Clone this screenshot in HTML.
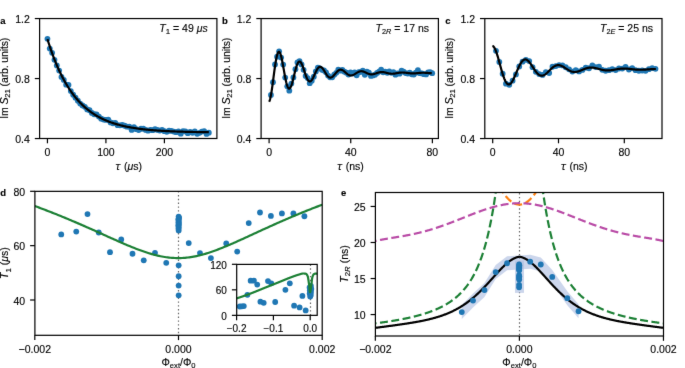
<!DOCTYPE html><html><head><meta charset="utf-8"><style>html,body{margin:0;padding:0;background:#fff;overflow:hidden}svg{display:block}text{font-family:"Liberation Sans",sans-serif;fill:#000;stroke:#000;stroke-width:0.13px}</style></head><body>
<svg style="will-change:transform" width="685" height="368" viewBox="0 0 685 368">
<defs><filter id="bl" x="0" y="0" width="685" height="368" filterUnits="userSpaceOnUse" color-interpolation-filters="sRGB"><feConvolveMatrix order="3" kernelMatrix="0.00524 0.06192 0.00524 0.06192 0.73137 0.06192 0.00524 0.06192 0.00524" divisor="1" edgeMode="duplicate"/></filter><clipPath id="ca"><rect x="39.6" y="18.55" width="177.3" height="119.95"/></clipPath><clipPath id="cb"><rect x="261" y="18.6" width="177.4" height="120"/></clipPath><clipPath id="cc"><rect x="484.8" y="18.6" width="177.6" height="120"/></clipPath><clipPath id="cd"><rect x="35" y="191.3" width="287.3" height="144"/></clipPath><clipPath id="ce"><rect x="375.4" y="192.5" width="288.1" height="143.5"/></clipPath><clipPath id="ci"><rect x="236.7" y="264.4" width="80.5" height="50.95"/></clipPath></defs>
<g filter="url(#bl)">
<rect width="685" height="368" fill="#fff"/>

<g fill="#1f77b4" clip-path="url(#ca)"><circle cx="47.44" cy="38.80" r="2.9"/><circle cx="49.78" cy="48.53" r="2.9"/><circle cx="52.12" cy="52.83" r="2.9"/><circle cx="54.46" cy="59.87" r="2.9"/><circle cx="56.80" cy="65.51" r="2.9"/><circle cx="59.14" cy="70.60" r="2.9"/><circle cx="61.48" cy="76.95" r="2.9"/><circle cx="63.81" cy="79.97" r="2.9"/><circle cx="66.15" cy="84.63" r="2.9"/><circle cx="68.49" cy="84.99" r="2.9"/><circle cx="70.83" cy="91.05" r="2.9"/><circle cx="73.17" cy="94.77" r="2.9"/><circle cx="75.51" cy="97.69" r="2.9"/><circle cx="77.85" cy="100.76" r="2.9"/><circle cx="80.19" cy="103.62" r="2.9"/><circle cx="82.53" cy="105.41" r="2.9"/><circle cx="84.87" cy="106.84" r="2.9"/><circle cx="87.21" cy="109.42" r="2.9"/><circle cx="89.55" cy="110.26" r="2.9"/><circle cx="91.88" cy="112.90" r="2.9"/><circle cx="94.22" cy="114.27" r="2.9"/><circle cx="96.56" cy="114.45" r="2.9"/><circle cx="98.90" cy="116.59" r="2.9"/><circle cx="101.24" cy="118.67" r="2.9"/><circle cx="103.58" cy="119.53" r="2.9"/><circle cx="105.92" cy="119.96" r="2.9"/><circle cx="108.26" cy="119.76" r="2.9"/><circle cx="110.60" cy="122.46" r="2.9"/><circle cx="112.94" cy="123.25" r="2.9"/><circle cx="115.28" cy="122.96" r="2.9"/><circle cx="117.62" cy="125.21" r="2.9"/><circle cx="119.96" cy="125.35" r="2.9"/><circle cx="122.29" cy="124.97" r="2.9"/><circle cx="124.63" cy="125.75" r="2.9"/><circle cx="126.97" cy="126.65" r="2.9"/><circle cx="129.31" cy="126.63" r="2.9"/><circle cx="131.65" cy="129.94" r="2.9"/><circle cx="133.99" cy="127.15" r="2.9"/><circle cx="136.33" cy="129.14" r="2.9"/><circle cx="138.67" cy="130.05" r="2.9"/><circle cx="141.01" cy="128.75" r="2.9"/><circle cx="143.35" cy="128.68" r="2.9"/><circle cx="145.69" cy="129.89" r="2.9"/><circle cx="148.03" cy="130.64" r="2.9"/><circle cx="150.36" cy="129.95" r="2.9"/><circle cx="152.70" cy="130.22" r="2.9"/><circle cx="155.04" cy="129.20" r="2.9"/><circle cx="157.38" cy="129.92" r="2.9"/><circle cx="159.72" cy="130.53" r="2.9"/><circle cx="162.06" cy="129.92" r="2.9"/><circle cx="164.40" cy="131.14" r="2.9"/><circle cx="166.74" cy="131.86" r="2.9"/><circle cx="169.08" cy="130.73" r="2.9"/><circle cx="171.42" cy="130.83" r="2.9"/><circle cx="173.76" cy="131.59" r="2.9"/><circle cx="176.10" cy="132.15" r="2.9"/><circle cx="178.44" cy="131.39" r="2.9"/><circle cx="180.77" cy="133.72" r="2.9"/><circle cx="183.11" cy="131.16" r="2.9"/><circle cx="185.45" cy="131.39" r="2.9"/><circle cx="187.79" cy="133.20" r="2.9"/><circle cx="190.13" cy="131.86" r="2.9"/><circle cx="192.47" cy="132.75" r="2.9"/><circle cx="194.81" cy="131.38" r="2.9"/><circle cx="197.15" cy="133.73" r="2.9"/><circle cx="199.49" cy="132.84" r="2.9"/><circle cx="201.83" cy="131.54" r="2.9"/><circle cx="204.17" cy="131.20" r="2.9"/><circle cx="206.51" cy="133.97" r="2.9"/><circle cx="208.84" cy="132.63" r="2.9"/></g>
<path d="M47.44,39.10 L48.25,41.71 L49.06,44.24 L49.87,46.71 L50.68,49.10 L51.50,51.43 L52.31,53.70 L53.12,55.90 L53.93,58.04 L54.74,60.12 L55.55,62.14 L56.36,64.10 L57.17,66.01 L57.98,67.87 L58.80,69.67 L59.61,71.43 L60.42,73.13 L61.23,74.79 L62.04,76.40 L62.85,77.97 L63.66,79.49 L64.47,80.98 L65.28,82.41 L66.09,83.81 L66.91,85.17 L67.72,86.50 L68.53,87.78 L69.34,89.03 L70.15,90.25 L70.96,91.43 L71.77,92.57 L72.58,93.69 L73.39,94.77 L74.21,95.83 L75.02,96.85 L75.83,97.85 L76.64,98.82 L77.45,99.76 L78.26,100.67 L79.07,101.56 L79.88,102.43 L80.69,103.27 L81.51,104.09 L82.32,104.88 L83.13,105.65 L83.94,106.40 L84.75,107.13 L85.56,107.84 L86.37,108.53 L87.18,109.20 L87.99,109.85 L88.81,110.49 L89.62,111.10 L90.43,111.70 L91.24,112.28 L92.05,112.85 L92.86,113.40 L93.67,113.93 L94.48,114.45 L95.29,114.96 L96.10,115.45 L96.92,115.93 L97.73,116.39 L98.54,116.84 L99.35,117.28 L100.16,117.71 L100.97,118.12 L101.78,118.52 L102.59,118.91 L103.40,119.29 L104.22,119.66 L105.03,120.02 L105.84,120.37 L106.65,120.71 L107.46,121.04 L108.27,121.37 L109.08,121.68 L109.89,121.98 L110.70,122.28 L111.52,122.56 L112.33,122.84 L113.14,123.11 L113.95,123.38 L114.76,123.63 L115.57,123.88 L116.38,124.12 L117.19,124.36 L118.00,124.59 L118.81,124.81 L119.63,125.02 L120.44,125.23 L121.25,125.44 L122.06,125.64 L122.87,125.83 L123.68,126.02 L124.49,126.20 L125.30,126.38 L126.11,126.55 L126.93,126.72 L127.74,126.88 L128.55,127.04 L129.36,127.19 L130.17,127.34 L130.98,127.49 L131.79,127.63 L132.60,127.77 L133.41,127.90 L134.23,128.03 L135.04,128.15 L135.85,128.28 L136.66,128.40 L137.47,128.51 L138.28,128.63 L139.09,128.73 L139.90,128.84 L140.71,128.94 L141.53,129.05 L142.34,129.14 L143.15,129.24 L143.96,129.33 L144.77,129.42 L145.58,129.51 L146.39,129.59 L147.20,129.68 L148.01,129.76 L148.82,129.83 L149.64,129.91 L150.45,129.98 L151.26,130.05 L152.07,130.12 L152.88,130.19 L153.69,130.26 L154.50,130.32 L155.31,130.38 L156.12,130.44 L156.94,130.50 L157.75,130.56 L158.56,130.62 L159.37,130.67 L160.18,130.72 L160.99,130.77 L161.80,130.82 L162.61,130.87 L163.42,130.92 L164.24,130.96 L165.05,131.01 L165.86,131.05 L166.67,131.09 L167.48,131.13 L168.29,131.17 L169.10,131.21 L169.91,131.25 L170.72,131.28 L171.54,131.32 L172.35,131.35 L173.16,131.39 L173.97,131.42 L174.78,131.45 L175.59,131.48 L176.40,131.51 L177.21,131.54 L178.02,131.57 L178.83,131.60 L179.65,131.62 L180.46,131.65 L181.27,131.67 L182.08,131.70 L182.89,131.72 L183.70,131.75 L184.51,131.77 L185.32,131.79 L186.13,131.81 L186.95,131.83 L187.76,131.85 L188.57,131.87 L189.38,131.89 L190.19,131.91 L191.00,131.93 L191.81,131.94 L192.62,131.96 L193.43,131.98 L194.25,131.99 L195.06,132.01 L195.87,132.02 L196.68,132.04 L197.49,132.05 L198.30,132.07 L199.11,132.08 L199.92,132.09 L200.73,132.11 L201.55,132.12 L202.36,132.13 L203.17,132.14 L203.98,132.15 L204.79,132.16 L205.60,132.18 L206.41,132.19 L207.22,132.20 L208.03,132.21 L208.84,132.22" fill="none" stroke="#000" stroke-width="2.2" stroke-linejoin="round" clip-path="url(#ca)"/>
<rect x="39.60" y="18.55" width="177.30" height="119.95" fill="none" stroke="#000" stroke-width="1.2"/>
<line x1="47.44" y1="138.50" x2="47.44" y2="143.30" stroke="#000" stroke-width="1.2"/>
<text x="47.44" y="155.80" text-anchor="middle" font-size="10.5">0</text>
<line x1="105.92" y1="138.50" x2="105.92" y2="143.30" stroke="#000" stroke-width="1.2"/>
<text x="105.92" y="155.80" text-anchor="middle" font-size="10.5">100</text>
<line x1="164.40" y1="138.50" x2="164.40" y2="143.30" stroke="#000" stroke-width="1.2"/>
<text x="164.40" y="155.80" text-anchor="middle" font-size="10.5">200</text>
<line x1="34.80" y1="138.55" x2="39.60" y2="138.55" stroke="#000" stroke-width="1.2"/>
<text x="29.80" y="143.05" text-anchor="end" font-size="10.5">0.4</text>
<line x1="34.80" y1="78.55" x2="39.60" y2="78.55" stroke="#000" stroke-width="1.2"/>
<text x="29.80" y="83.05" text-anchor="end" font-size="10.5">0.8</text>
<line x1="34.80" y1="18.55" x2="39.60" y2="18.55" stroke="#000" stroke-width="1.2"/>
<text x="29.80" y="23.05" text-anchor="end" font-size="10.5">1.2</text>
<g fill="#1f77b4" clip-path="url(#cb)"><circle cx="270.94" cy="94.89" r="2.9"/><circle cx="272.98" cy="82.24" r="2.9"/><circle cx="275.02" cy="64.39" r="2.9"/><circle cx="277.06" cy="56.66" r="2.9"/><circle cx="279.10" cy="51.37" r="2.9"/><circle cx="281.14" cy="57.58" r="2.9"/><circle cx="283.18" cy="64.61" r="2.9"/><circle cx="285.22" cy="77.55" r="2.9"/><circle cx="287.26" cy="86.30" r="2.9"/><circle cx="289.31" cy="90.71" r="2.9"/><circle cx="291.35" cy="83.53" r="2.9"/><circle cx="293.39" cy="77.43" r="2.9"/><circle cx="295.43" cy="69.15" r="2.9"/><circle cx="297.47" cy="62.42" r="2.9"/><circle cx="299.51" cy="61.12" r="2.9"/><circle cx="301.55" cy="64.42" r="2.9"/><circle cx="303.59" cy="69.82" r="2.9"/><circle cx="305.63" cy="75.93" r="2.9"/><circle cx="307.67" cy="78.03" r="2.9"/><circle cx="309.72" cy="83.22" r="2.9"/><circle cx="311.76" cy="80.76" r="2.9"/><circle cx="313.80" cy="76.66" r="2.9"/><circle cx="315.84" cy="71.52" r="2.9"/><circle cx="317.88" cy="67.56" r="2.9"/><circle cx="319.92" cy="68.33" r="2.9"/><circle cx="321.96" cy="69.86" r="2.9"/><circle cx="324.00" cy="70.50" r="2.9"/><circle cx="326.04" cy="72.35" r="2.9"/><circle cx="328.08" cy="75.54" r="2.9"/><circle cx="330.13" cy="77.32" r="2.9"/><circle cx="332.17" cy="77.33" r="2.9"/><circle cx="334.21" cy="74.64" r="2.9"/><circle cx="336.25" cy="72.85" r="2.9"/><circle cx="338.29" cy="69.59" r="2.9"/><circle cx="340.33" cy="70.65" r="2.9"/><circle cx="342.37" cy="69.94" r="2.9"/><circle cx="344.41" cy="71.64" r="2.9"/><circle cx="346.45" cy="72.65" r="2.9"/><circle cx="348.49" cy="74.51" r="2.9"/><circle cx="350.54" cy="72.41" r="2.9"/><circle cx="352.58" cy="73.41" r="2.9"/><circle cx="354.62" cy="72.40" r="2.9"/><circle cx="356.66" cy="75.33" r="2.9"/><circle cx="358.70" cy="72.18" r="2.9"/><circle cx="360.74" cy="71.97" r="2.9"/><circle cx="362.78" cy="70.76" r="2.9"/><circle cx="364.82" cy="74.86" r="2.9"/><circle cx="366.86" cy="71.68" r="2.9"/><circle cx="368.90" cy="72.64" r="2.9"/><circle cx="370.95" cy="75.90" r="2.9"/><circle cx="372.99" cy="75.41" r="2.9"/><circle cx="375.03" cy="74.68" r="2.9"/><circle cx="377.07" cy="72.96" r="2.9"/><circle cx="379.11" cy="71.62" r="2.9"/><circle cx="381.15" cy="69.61" r="2.9"/><circle cx="383.19" cy="72.37" r="2.9"/><circle cx="385.23" cy="71.58" r="2.9"/><circle cx="387.27" cy="72.83" r="2.9"/><circle cx="389.31" cy="71.37" r="2.9"/><circle cx="391.36" cy="72.83" r="2.9"/><circle cx="393.40" cy="72.05" r="2.9"/><circle cx="395.44" cy="74.72" r="2.9"/><circle cx="397.48" cy="73.28" r="2.9"/><circle cx="399.52" cy="73.68" r="2.9"/><circle cx="401.56" cy="70.71" r="2.9"/><circle cx="403.60" cy="71.74" r="2.9"/><circle cx="405.64" cy="73.09" r="2.9"/><circle cx="407.68" cy="73.54" r="2.9"/><circle cx="409.72" cy="72.67" r="2.9"/><circle cx="411.77" cy="74.24" r="2.9"/><circle cx="413.81" cy="74.51" r="2.9"/><circle cx="415.85" cy="72.68" r="2.9"/><circle cx="417.89" cy="70.10" r="2.9"/><circle cx="419.93" cy="73.16" r="2.9"/><circle cx="421.97" cy="73.42" r="2.9"/><circle cx="424.01" cy="74.16" r="2.9"/><circle cx="426.05" cy="74.45" r="2.9"/><circle cx="428.09" cy="72.37" r="2.9"/><circle cx="430.13" cy="72.12" r="2.9"/><circle cx="432.18" cy="73.21" r="2.9"/></g>
<path d="M269.10,101.66 L269.51,100.92 L269.92,99.77 L270.32,98.24 L270.73,96.35 L271.14,94.16 L271.55,91.68 L271.95,88.98 L272.36,86.10 L272.77,83.09 L273.18,79.99 L273.58,76.86 L273.99,73.75 L274.40,70.70 L274.81,67.76 L275.22,64.98 L275.62,62.38 L276.03,60.01 L276.44,57.90 L276.85,56.07 L277.25,54.55 L277.66,53.35 L278.07,52.48 L278.48,51.95 L278.88,51.76 L279.29,51.90 L279.70,52.36 L280.11,53.13 L280.52,54.19 L280.92,55.52 L281.33,57.08 L281.74,58.85 L282.15,60.79 L282.55,62.88 L282.96,65.08 L283.37,67.34 L283.78,69.64 L284.18,71.93 L284.59,74.19 L285.00,76.37 L285.41,78.45 L285.82,80.39 L286.22,82.18 L286.63,83.78 L287.04,85.18 L287.45,86.35 L287.85,87.29 L288.26,87.99 L288.67,88.44 L289.08,88.65 L289.48,88.60 L289.89,88.32 L290.30,87.81 L290.71,87.08 L291.12,86.16 L291.52,85.05 L291.93,83.78 L292.34,82.38 L292.75,80.87 L293.15,79.28 L293.56,77.62 L293.97,75.94 L294.38,74.25 L294.78,72.58 L295.19,70.96 L295.60,69.41 L296.01,67.96 L296.42,66.61 L296.82,65.40 L297.23,64.34 L297.64,63.43 L298.05,62.70 L298.45,62.14 L298.86,61.76 L299.27,61.57 L299.68,61.55 L300.08,61.72 L300.49,62.05 L300.90,62.55 L301.31,63.20 L301.72,63.98 L302.12,64.88 L302.53,65.89 L302.94,66.98 L303.35,68.14 L303.75,69.34 L304.16,70.58 L304.57,71.82 L304.98,73.05 L305.38,74.25 L305.79,75.41 L306.20,76.50 L306.61,77.50 L307.02,78.42 L307.42,79.23 L307.83,79.93 L308.24,80.50 L308.65,80.94 L309.05,81.25 L309.46,81.43 L309.87,81.47 L310.28,81.38 L310.68,81.17 L311.09,80.83 L311.50,80.38 L311.91,79.83 L312.31,79.19 L312.72,78.47 L313.13,77.68 L313.54,76.84 L313.95,75.96 L314.35,75.05 L314.76,74.14 L315.17,73.23 L315.58,72.34 L315.98,71.48 L316.39,70.67 L316.80,69.91 L317.21,69.22 L317.61,68.61 L318.02,68.07 L318.43,67.63 L318.84,67.28 L319.25,67.03 L319.65,66.88 L320.06,66.82 L320.47,66.86 L320.88,67.00 L321.28,67.22 L321.69,67.53 L322.10,67.92 L322.51,68.38 L322.91,68.89 L323.32,69.46 L323.73,70.07 L324.14,70.71 L324.55,71.37 L324.95,72.04 L325.36,72.71 L325.77,73.37 L326.18,74.01 L326.58,74.61 L326.99,75.18 L327.40,75.70 L327.81,76.17 L328.21,76.58 L328.62,76.92 L329.03,77.19 L329.44,77.40 L329.85,77.53 L330.25,77.59 L330.66,77.57 L331.07,77.49 L331.48,77.34 L331.88,77.13 L332.29,76.86 L332.70,76.53 L333.11,76.16 L333.51,75.75 L333.92,75.31 L334.33,74.85 L334.74,74.36 L335.15,73.87 L335.55,73.38 L335.96,72.89 L336.37,72.42 L336.78,71.97 L337.18,71.54 L337.59,71.15 L338.00,70.80 L338.41,70.49 L338.81,70.22 L339.22,70.01 L339.63,69.85 L340.04,69.74 L340.45,69.68 L340.85,69.68 L341.26,69.73 L341.67,69.83 L342.08,69.97 L342.48,70.16 L342.89,70.39 L343.30,70.65 L343.71,70.95 L344.11,71.26 L344.52,71.60 L344.93,71.96 L345.34,72.32 L345.75,72.68 L346.15,73.04 L346.56,73.39 L346.97,73.72 L347.38,74.04 L347.78,74.34 L348.19,74.60 L348.60,74.84 L349.01,75.04 L349.41,75.21 L349.82,75.34 L350.23,75.43 L350.64,75.48 L351.05,75.49 L351.45,75.46 L351.86,75.40 L352.27,75.30 L352.68,75.17 L353.08,75.01 L353.49,74.82 L353.90,74.61 L354.31,74.38 L354.71,74.14 L355.12,73.88 L355.53,73.62 L355.94,73.35 L356.35,73.08 L356.75,72.83 L357.16,72.57 L357.57,72.34 L357.98,72.12 L358.38,71.92 L358.79,71.74 L359.20,71.58 L359.61,71.45 L360.01,71.35 L360.42,71.28 L360.83,71.23 L361.24,71.22 L361.65,71.23 L362.05,71.27 L362.46,71.33 L362.87,71.42 L363.28,71.54 L363.68,71.67 L364.09,71.82 L364.50,71.99 L364.91,72.17 L365.31,72.35 L365.72,72.55 L366.13,72.74 L366.54,72.94 L366.95,73.13 L367.35,73.31 L367.76,73.49 L368.17,73.66 L368.58,73.81 L368.98,73.95 L369.39,74.06 L369.80,74.16 L370.21,74.24 L370.61,74.30 L371.02,74.34 L371.43,74.36 L371.84,74.35 L372.25,74.33 L372.65,74.29 L373.06,74.22 L373.47,74.14 L373.88,74.05 L374.28,73.94 L374.69,73.82 L375.10,73.69 L375.51,73.56 L375.91,73.42 L376.32,73.27 L376.73,73.13 L377.14,72.99 L377.55,72.85 L377.95,72.72 L378.36,72.59 L378.77,72.48 L379.18,72.38 L379.58,72.29 L379.99,72.21 L380.40,72.15 L380.81,72.10 L381.21,72.07 L381.62,72.05 L382.03,72.05 L382.44,72.06 L382.85,72.09 L383.25,72.14 L383.66,72.19 L384.07,72.26 L384.48,72.33 L384.88,72.42 L385.29,72.51 L385.70,72.61 L386.11,72.72 L386.51,72.82 L386.92,72.93 L387.33,73.03 L387.74,73.13 L388.15,73.23 L388.55,73.32 L388.96,73.41 L389.37,73.49 L389.78,73.56 L390.18,73.62 L390.59,73.66 L391.00,73.70 L391.41,73.73 L391.81,73.74 L392.22,73.75 L392.63,73.74 L393.04,73.72 L393.44,73.69 L393.85,73.65 L394.26,73.61 L394.67,73.55 L395.08,73.49 L395.48,73.42 L395.89,73.35 L396.30,73.28 L396.71,73.20 L397.11,73.12 L397.52,73.04 L397.93,72.97 L398.34,72.89 L398.74,72.83 L399.15,72.76 L399.56,72.70 L399.97,72.65 L400.38,72.60 L400.78,72.57 L401.19,72.54 L401.60,72.52 L402.01,72.50 L402.41,72.50 L402.82,72.50 L403.23,72.51 L403.64,72.53 L404.04,72.56 L404.45,72.59 L404.86,72.63 L405.27,72.68 L405.68,72.72 L406.08,72.78 L406.49,72.83 L406.90,72.89 L407.31,72.94 L407.71,73.00 L408.12,73.06 L408.53,73.11 L408.94,73.16 L409.34,73.21 L409.75,73.26 L410.16,73.30 L410.57,73.33 L410.98,73.36 L411.38,73.38 L411.79,73.40 L412.20,73.41 L412.61,73.42 L413.01,73.41 L413.42,73.41 L413.83,73.39 L414.24,73.38 L414.64,73.35 L415.05,73.33 L415.46,73.29 L415.87,73.26 L416.28,73.22 L416.68,73.18 L417.09,73.14 L417.50,73.10 L417.91,73.06 L418.31,73.02 L418.72,72.97 L419.13,72.94 L419.54,72.90 L419.94,72.87 L420.35,72.84 L420.76,72.81 L421.17,72.79 L421.58,72.77 L421.98,72.76 L422.39,72.75 L422.80,72.74 L423.21,72.74 L423.61,72.75 L424.02,72.75 L424.43,72.77 L424.84,72.78 L425.24,72.80 L425.65,72.83 L426.06,72.85 L426.47,72.88 L426.88,72.91 L427.28,72.94 L427.69,72.97 L428.10,73.00 L428.51,73.03 L428.91,73.06 L429.32,73.09 L429.73,73.11 L430.14,73.14 L430.54,73.16 L430.95,73.18 L431.36,73.20 L431.77,73.21" fill="none" stroke="#000" stroke-width="2.2" stroke-linejoin="round" clip-path="url(#cb)"/>
<rect x="261.10" y="18.55" width="177.30" height="119.95" fill="none" stroke="#000" stroke-width="1.2"/>
<line x1="269.10" y1="138.50" x2="269.10" y2="143.30" stroke="#000" stroke-width="1.2"/>
<text x="269.10" y="155.80" text-anchor="middle" font-size="10.5">0</text>
<line x1="350.74" y1="138.50" x2="350.74" y2="143.30" stroke="#000" stroke-width="1.2"/>
<text x="350.74" y="155.80" text-anchor="middle" font-size="10.5">40</text>
<line x1="432.38" y1="138.50" x2="432.38" y2="143.30" stroke="#000" stroke-width="1.2"/>
<text x="432.38" y="155.80" text-anchor="middle" font-size="10.5">80</text>
<line x1="256.30" y1="138.55" x2="261.10" y2="138.55" stroke="#000" stroke-width="1.2"/>
<text x="251.30" y="143.05" text-anchor="end" font-size="10.5">0.4</text>
<line x1="256.30" y1="78.55" x2="261.10" y2="78.55" stroke="#000" stroke-width="1.2"/>
<text x="251.30" y="83.05" text-anchor="end" font-size="10.5">0.8</text>
<line x1="256.30" y1="18.55" x2="261.10" y2="18.55" stroke="#000" stroke-width="1.2"/>
<text x="251.30" y="23.05" text-anchor="end" font-size="10.5">1.2</text>
<g fill="#1f77b4" clip-path="url(#cc)"><circle cx="495.99" cy="50.86" r="2.9"/><circle cx="499.31" cy="62.01" r="2.9"/><circle cx="502.64" cy="73.75" r="2.9"/><circle cx="505.96" cy="83.72" r="2.9"/><circle cx="509.28" cy="84.85" r="2.9"/><circle cx="512.60" cy="80.66" r="2.9"/><circle cx="515.93" cy="74.42" r="2.9"/><circle cx="519.25" cy="66.49" r="2.9"/><circle cx="522.57" cy="61.66" r="2.9"/><circle cx="525.90" cy="59.87" r="2.9"/><circle cx="529.22" cy="61.09" r="2.9"/><circle cx="532.54" cy="67.14" r="2.9"/><circle cx="535.86" cy="71.78" r="2.9"/><circle cx="539.19" cy="74.04" r="2.9"/><circle cx="542.51" cy="74.94" r="2.9"/><circle cx="545.83" cy="72.14" r="2.9"/><circle cx="549.16" cy="73.01" r="2.9"/><circle cx="552.48" cy="66.75" r="2.9"/><circle cx="555.80" cy="66.09" r="2.9"/><circle cx="559.13" cy="65.05" r="2.9"/><circle cx="562.45" cy="65.47" r="2.9"/><circle cx="565.77" cy="67.25" r="2.9"/><circle cx="569.09" cy="69.34" r="2.9"/><circle cx="572.42" cy="71.57" r="2.9"/><circle cx="575.74" cy="70.24" r="2.9"/><circle cx="579.06" cy="71.44" r="2.9"/><circle cx="582.39" cy="69.96" r="2.9"/><circle cx="585.71" cy="67.66" r="2.9"/><circle cx="589.03" cy="68.26" r="2.9"/><circle cx="592.35" cy="65.31" r="2.9"/><circle cx="595.68" cy="67.04" r="2.9"/><circle cx="599.00" cy="66.70" r="2.9"/><circle cx="602.32" cy="69.86" r="2.9"/><circle cx="605.65" cy="70.75" r="2.9"/><circle cx="608.97" cy="70.22" r="2.9"/><circle cx="612.29" cy="69.26" r="2.9"/><circle cx="615.61" cy="70.07" r="2.9"/><circle cx="618.94" cy="68.51" r="2.9"/><circle cx="622.26" cy="68.61" r="2.9"/><circle cx="625.58" cy="66.88" r="2.9"/><circle cx="628.91" cy="69.52" r="2.9"/><circle cx="632.23" cy="68.10" r="2.9"/><circle cx="635.55" cy="70.22" r="2.9"/><circle cx="638.87" cy="70.75" r="2.9"/><circle cx="642.20" cy="70.49" r="2.9"/><circle cx="645.52" cy="70.83" r="2.9"/><circle cx="648.84" cy="69.18" r="2.9"/><circle cx="652.17" cy="68.03" r="2.9"/><circle cx="655.49" cy="68.82" r="2.9"/></g>
<path d="M492.37,45.98 L492.78,46.07 L493.19,46.30 L493.60,46.67 L494.01,47.16 L494.42,47.79 L494.83,48.53 L495.24,49.38 L495.65,50.34 L496.06,51.40 L496.47,52.54 L496.88,53.76 L497.29,55.05 L497.70,56.40 L498.11,57.81 L498.52,59.25 L498.93,60.72 L499.34,62.22 L499.75,63.73 L500.16,65.23 L500.57,66.74 L500.98,68.22 L501.39,69.69 L501.80,71.11 L502.21,72.50 L502.62,73.84 L503.03,75.12 L503.44,76.33 L503.85,77.48 L504.26,78.56 L504.67,79.55 L505.08,80.46 L505.48,81.28 L505.89,82.01 L506.30,82.65 L506.71,83.19 L507.12,83.63 L507.53,83.98 L507.94,84.23 L508.35,84.38 L508.76,84.43 L509.17,84.39 L509.58,84.26 L509.99,84.04 L510.40,83.73 L510.81,83.34 L511.22,82.87 L511.63,82.33 L512.04,81.72 L512.45,81.05 L512.86,80.32 L513.27,79.53 L513.68,78.70 L514.09,77.83 L514.50,76.92 L514.91,75.99 L515.32,75.04 L515.73,74.07 L516.14,73.09 L516.55,72.11 L516.96,71.13 L517.37,70.16 L517.78,69.21 L518.19,68.27 L518.60,67.37 L519.01,66.49 L519.42,65.65 L519.83,64.85 L520.24,64.10 L520.65,63.39 L521.06,62.73 L521.47,62.13 L521.88,61.59 L522.29,61.10 L522.70,60.68 L523.11,60.31 L523.52,60.01 L523.93,59.78 L524.34,59.60 L524.75,59.49 L525.16,59.45 L525.57,59.46 L525.98,59.54 L526.38,59.67 L526.79,59.86 L527.20,60.10 L527.61,60.40 L528.02,60.74 L528.43,61.13 L528.84,61.56 L529.25,62.03 L529.66,62.53 L530.07,63.07 L530.48,63.63 L530.89,64.21 L531.30,64.82 L531.71,65.43 L532.12,66.06 L532.53,66.70 L532.94,67.34 L533.35,67.97 L533.76,68.60 L534.17,69.22 L534.58,69.83 L534.99,70.43 L535.40,71.00 L535.81,71.55 L536.22,72.07 L536.63,72.57 L537.04,73.04 L537.45,73.47 L537.86,73.87 L538.27,74.23 L538.68,74.55 L539.09,74.83 L539.50,75.08 L539.91,75.28 L540.32,75.44 L540.73,75.56 L541.14,75.64 L541.55,75.68 L541.96,75.68 L542.37,75.64 L542.78,75.56 L543.19,75.44 L543.60,75.29 L544.01,75.10 L544.42,74.89 L544.83,74.64 L545.24,74.36 L545.65,74.06 L546.06,73.74 L546.47,73.40 L546.88,73.04 L547.29,72.66 L547.69,72.27 L548.10,71.87 L548.51,71.46 L548.92,71.05 L549.33,70.63 L549.74,70.22 L550.15,69.81 L550.56,69.40 L550.97,69.01 L551.38,68.62 L551.79,68.24 L552.20,67.88 L552.61,67.54 L553.02,67.21 L553.43,66.91 L553.84,66.62 L554.25,66.36 L554.66,66.12 L555.07,65.90 L555.48,65.71 L555.89,65.55 L556.30,65.41 L556.71,65.30 L557.12,65.22 L557.53,65.16 L557.94,65.13 L558.35,65.13 L558.76,65.15 L559.17,65.20 L559.58,65.27 L559.99,65.37 L560.40,65.48 L560.81,65.62 L561.22,65.78 L561.63,65.95 L562.04,66.14 L562.45,66.35 L562.86,66.57 L563.27,66.81 L563.68,67.05 L564.09,67.30 L564.50,67.56 L564.91,67.82 L565.32,68.09 L565.73,68.36 L566.14,68.63 L566.55,68.90 L566.96,69.16 L567.37,69.42 L567.78,69.67 L568.19,69.92 L568.60,70.16 L569.00,70.38 L569.41,70.60 L569.82,70.80 L570.23,70.99 L570.64,71.16 L571.05,71.32 L571.46,71.46 L571.87,71.59 L572.28,71.70 L572.69,71.79 L573.10,71.86 L573.51,71.92 L573.92,71.96 L574.33,71.98 L574.74,71.99 L575.15,71.98 L575.56,71.95 L575.97,71.91 L576.38,71.85 L576.79,71.78 L577.20,71.69 L577.61,71.59 L578.02,71.48 L578.43,71.35 L578.84,71.22 L579.25,71.08 L579.66,70.93 L580.07,70.77 L580.48,70.61 L580.89,70.44 L581.30,70.27 L581.71,70.10 L582.12,69.92 L582.53,69.75 L582.94,69.57 L583.35,69.40 L583.76,69.23 L584.17,69.07 L584.58,68.91 L584.99,68.75 L585.40,68.60 L585.81,68.46 L586.22,68.33 L586.63,68.21 L587.04,68.09 L587.45,67.99 L587.86,67.89 L588.27,67.81 L588.68,67.73 L589.09,67.67 L589.50,67.62 L589.91,67.58 L590.31,67.55 L590.72,67.54 L591.13,67.53 L591.54,67.54 L591.95,67.55 L592.36,67.58 L592.77,67.61 L593.18,67.66 L593.59,67.71 L594.00,67.78 L594.41,67.85 L594.82,67.93 L595.23,68.01 L595.64,68.10 L596.05,68.20 L596.46,68.30 L596.87,68.41 L597.28,68.52 L597.69,68.63 L598.10,68.74 L598.51,68.85 L598.92,68.97 L599.33,69.08 L599.74,69.19 L600.15,69.30 L600.56,69.41 L600.97,69.52 L601.38,69.62 L601.79,69.71 L602.20,69.81 L602.61,69.89 L603.02,69.98 L603.43,70.05 L603.84,70.12 L604.25,70.18 L604.66,70.24 L605.07,70.29 L605.48,70.33 L605.89,70.36 L606.30,70.39 L606.71,70.41 L607.12,70.42 L607.53,70.43 L607.94,70.43 L608.35,70.42 L608.76,70.40 L609.17,70.38 L609.58,70.35 L609.99,70.32 L610.40,70.28 L610.81,70.23 L611.22,70.18 L611.62,70.13 L612.03,70.07 L612.44,70.00 L612.85,69.94 L613.26,69.87 L613.67,69.80 L614.08,69.73 L614.49,69.66 L614.90,69.58 L615.31,69.51 L615.72,69.44 L616.13,69.36 L616.54,69.29 L616.95,69.22 L617.36,69.15 L617.77,69.08 L618.18,69.02 L618.59,68.96 L619.00,68.90 L619.41,68.85 L619.82,68.80 L620.23,68.75 L620.64,68.71 L621.05,68.67 L621.46,68.64 L621.87,68.61 L622.28,68.59 L622.69,68.57 L623.10,68.56 L623.51,68.55 L623.92,68.55 L624.33,68.55 L624.74,68.55 L625.15,68.56 L625.56,68.57 L625.97,68.59 L626.38,68.61 L626.79,68.64 L627.20,68.67 L627.61,68.70 L628.02,68.74 L628.43,68.77 L628.84,68.81 L629.25,68.85 L629.66,68.90 L630.07,68.94 L630.48,68.99 L630.89,69.04 L631.30,69.09 L631.71,69.13 L632.12,69.18 L632.52,69.23 L632.93,69.28 L633.34,69.32 L633.75,69.37 L634.16,69.41 L634.57,69.45 L634.98,69.49 L635.39,69.53 L635.80,69.56 L636.21,69.60 L636.62,69.63 L637.03,69.66 L637.44,69.68 L637.85,69.70 L638.26,69.72 L638.67,69.74 L639.08,69.75 L639.49,69.76 L639.90,69.77 L640.31,69.77 L640.72,69.77 L641.13,69.77 L641.54,69.76 L641.95,69.75 L642.36,69.74 L642.77,69.73 L643.18,69.71 L643.59,69.69 L644.00,69.67 L644.41,69.65 L644.82,69.63 L645.23,69.60 L645.64,69.57 L646.05,69.54 L646.46,69.52 L646.87,69.49 L647.28,69.45 L647.69,69.42 L648.10,69.39 L648.51,69.36 L648.92,69.33 L649.33,69.30 L649.74,69.27 L650.15,69.24 L650.56,69.21 L650.97,69.18 L651.38,69.16 L651.79,69.13 L652.20,69.11 L652.61,69.09 L653.02,69.07 L653.43,69.05 L653.83,69.03 L654.24,69.02 L654.65,69.01 L655.06,69.00 L655.47,68.99 L655.88,68.98" fill="none" stroke="#000" stroke-width="2.2" stroke-linejoin="round" clip-path="url(#cc)"/>
<rect x="484.80" y="18.55" width="177.20" height="119.95" fill="none" stroke="#000" stroke-width="1.2"/>
<line x1="492.70" y1="138.50" x2="492.70" y2="143.30" stroke="#000" stroke-width="1.2"/>
<text x="492.70" y="155.80" text-anchor="middle" font-size="10.5">0</text>
<line x1="558.50" y1="138.50" x2="558.50" y2="143.30" stroke="#000" stroke-width="1.2"/>
<text x="558.50" y="155.80" text-anchor="middle" font-size="10.5">40</text>
<line x1="624.30" y1="138.50" x2="624.30" y2="143.30" stroke="#000" stroke-width="1.2"/>
<text x="624.30" y="155.80" text-anchor="middle" font-size="10.5">80</text>
<line x1="480.00" y1="138.55" x2="484.80" y2="138.55" stroke="#000" stroke-width="1.2"/>
<text x="475.00" y="143.05" text-anchor="end" font-size="10.5">0.4</text>
<line x1="480.00" y1="78.55" x2="484.80" y2="78.55" stroke="#000" stroke-width="1.2"/>
<text x="475.00" y="83.05" text-anchor="end" font-size="10.5">0.8</text>
<line x1="480.00" y1="18.55" x2="484.80" y2="18.55" stroke="#000" stroke-width="1.2"/>
<text x="475.00" y="23.05" text-anchor="end" font-size="10.5">1.2</text>
<line x1="178.5" y1="335.3" x2="178.5" y2="191.35" stroke="#666" stroke-width="1.2" stroke-dasharray="1.4 2.4" stroke-dashoffset="1.7"/>
<g fill="#1f77b4"><circle cx="61.25" cy="234.40" r="2.9"/><circle cx="76.25" cy="231.60" r="2.9"/><circle cx="87.50" cy="214.10" r="2.9"/><circle cx="98.75" cy="232.50" r="2.9"/><circle cx="110.00" cy="252.20" r="2.9"/><circle cx="121.25" cy="239.40" r="2.9"/><circle cx="132.50" cy="253.75" r="2.9"/><circle cx="143.75" cy="260.30" r="2.9"/><circle cx="155.00" cy="252.80" r="2.9"/><circle cx="166.25" cy="262.80" r="2.9"/><circle cx="188.75" cy="243.10" r="2.9"/><circle cx="200.00" cy="253.10" r="2.9"/><circle cx="210.90" cy="258.10" r="2.9"/><circle cx="226.25" cy="243.40" r="2.9"/><circle cx="237.20" cy="251.60" r="2.9"/><circle cx="248.75" cy="223.10" r="2.9"/><circle cx="260.00" cy="212.50" r="2.9"/><circle cx="270.90" cy="215.90" r="2.9"/><circle cx="281.90" cy="213.40" r="2.9"/><circle cx="293.40" cy="213.40" r="2.9"/><circle cx="304.40" cy="216.25" r="2.9"/></g>
<g fill="#1f77b4"><circle cx="178.65" cy="216.60" r="2.9"/><circle cx="179.10" cy="218.00" r="2.9"/><circle cx="178.30" cy="219.50" r="2.9"/><circle cx="178.90" cy="221.00" r="2.9"/><circle cx="178.40" cy="222.50" r="2.9"/><circle cx="179.00" cy="224.00" r="2.9"/><circle cx="178.30" cy="225.50" r="2.9"/><circle cx="178.80" cy="227.00" r="2.9"/><circle cx="178.50" cy="228.50" r="2.9"/><circle cx="178.65" cy="230.40" r="2.9"/><circle cx="178.65" cy="265.30" r="2.9"/><circle cx="178.65" cy="276.25" r="2.9"/><circle cx="178.65" cy="285.60" r="2.9"/><circle cx="178.65" cy="295.30" r="2.9"/></g>
<path d="M34.80,206.01 L36.24,206.54 L37.69,207.08 L39.13,207.62 L40.58,208.16 L42.02,208.71 L43.47,209.25 L44.91,209.81 L46.35,210.36 L47.80,210.92 L49.24,211.48 L50.69,212.05 L52.13,212.61 L53.57,213.19 L55.02,213.76 L56.46,214.34 L57.91,214.92 L59.35,215.50 L60.80,216.09 L62.24,216.68 L63.68,217.27 L65.13,217.87 L66.57,218.47 L68.02,219.07 L69.46,219.68 L70.91,220.28 L72.35,220.90 L73.79,221.51 L75.24,222.13 L76.68,222.75 L78.13,223.37 L79.57,223.99 L81.02,224.62 L82.46,225.25 L83.90,225.88 L85.35,226.52 L86.79,227.16 L88.24,227.79 L89.68,228.44 L91.12,229.08 L92.57,229.72 L94.01,230.37 L95.46,231.02 L96.90,231.66 L98.35,232.31 L99.79,232.97 L101.23,233.62 L102.68,234.27 L104.12,234.92 L105.57,235.57 L107.01,236.22 L108.46,236.88 L109.90,237.53 L111.34,238.17 L112.79,238.82 L114.23,239.47 L115.68,240.11 L117.12,240.75 L118.56,241.39 L120.01,242.03 L121.45,242.66 L122.90,243.29 L124.34,243.91 L125.79,244.53 L127.23,245.14 L128.67,245.74 L130.12,246.34 L131.56,246.93 L133.01,247.52 L134.45,248.09 L135.90,248.66 L137.34,249.21 L138.78,249.76 L140.23,250.30 L141.67,250.82 L143.12,251.33 L144.56,251.83 L146.01,252.31 L147.45,252.78 L148.89,253.23 L150.34,253.67 L151.78,254.09 L153.23,254.49 L154.67,254.88 L156.11,255.25 L157.56,255.59 L159.00,255.92 L160.45,256.23 L161.89,256.51 L163.34,256.77 L164.78,257.01 L166.22,257.23 L167.67,257.42 L169.11,257.59 L170.56,257.74 L172.00,257.86 L173.45,257.95 L174.89,258.02 L176.33,258.07 L177.78,258.08 L179.22,258.08 L180.67,258.05 L182.11,257.99 L183.55,257.90 L185.00,257.80 L186.44,257.66 L187.89,257.51 L189.33,257.32 L190.78,257.12 L192.22,256.89 L193.66,256.63 L195.11,256.36 L196.55,256.06 L198.00,255.74 L199.44,255.40 L200.89,255.04 L202.33,254.66 L203.77,254.26 L205.22,253.85 L206.66,253.41 L208.11,252.96 L209.55,252.50 L210.99,252.01 L212.44,251.52 L213.88,251.01 L215.33,250.48 L216.77,249.95 L218.22,249.40 L219.66,248.84 L221.10,248.27 L222.55,247.69 L223.99,247.10 L225.44,246.51 L226.88,245.90 L228.33,245.29 L229.77,244.67 L231.21,244.05 L232.66,243.42 L234.10,242.78 L235.55,242.14 L236.99,241.49 L238.44,240.85 L239.88,240.19 L241.32,239.54 L242.77,238.88 L244.21,238.22 L245.66,237.56 L247.10,236.90 L248.54,236.24 L249.99,235.57 L251.43,234.91 L252.88,234.24 L254.32,233.58 L255.77,232.91 L257.21,232.25 L258.65,231.58 L260.10,230.92 L261.54,230.26 L262.99,229.60 L264.43,228.94 L265.88,228.28 L267.32,227.63 L268.76,226.97 L270.21,226.32 L271.65,225.67 L273.10,225.02 L274.54,224.38 L275.98,223.73 L277.43,223.09 L278.87,222.45 L280.32,221.82 L281.76,221.19 L283.21,220.56 L284.65,219.93 L286.09,219.30 L287.54,218.68 L288.98,218.06 L290.43,217.45 L291.87,216.84 L293.32,216.23 L294.76,215.62 L296.20,215.02 L297.65,214.42 L299.09,213.82 L300.54,213.23 L301.98,212.64 L303.43,212.05 L304.87,211.46 L306.31,210.88 L307.76,210.30 L309.20,209.73 L310.65,209.16 L312.09,208.59 L313.53,208.02 L314.98,207.46 L316.42,206.90 L317.87,206.35 L319.31,205.80 L320.76,205.25 L322.20,204.70" fill="none" stroke="#1c8035" stroke-width="2.2" stroke-linejoin="round" clip-path="url(#cd)"/>
<rect x="34.90" y="191.35" width="287.30" height="143.95" fill="none" stroke="#000" stroke-width="1.2"/>
<line x1="34.80" y1="335.30" x2="34.80" y2="340.10" stroke="#000" stroke-width="1.2"/>
<text x="34.80" y="352.60" text-anchor="middle" font-size="10.5">−0.002</text>
<line x1="178.50" y1="335.30" x2="178.50" y2="340.10" stroke="#000" stroke-width="1.2"/>
<text x="178.50" y="352.60" text-anchor="middle" font-size="10.5">0.000</text>
<line x1="322.20" y1="335.30" x2="322.20" y2="340.10" stroke="#000" stroke-width="1.2"/>
<text x="322.20" y="352.60" text-anchor="middle" font-size="10.5">0.002</text>
<line x1="30.10" y1="300.00" x2="34.90" y2="300.00" stroke="#000" stroke-width="1.2"/>
<text x="25.10" y="304.50" text-anchor="end" font-size="10.5">40</text>
<line x1="30.10" y1="245.65" x2="34.90" y2="245.65" stroke="#000" stroke-width="1.2"/>
<text x="25.10" y="250.15" text-anchor="end" font-size="10.5">60</text>
<line x1="30.10" y1="191.30" x2="34.90" y2="191.30" stroke="#000" stroke-width="1.2"/>
<text x="25.10" y="195.80" text-anchor="end" font-size="10.5">80</text>
<rect x="236.7" y="264.4" width="80.5" height="50.950000000000045" fill="#fff"/>
<line x1="310.5" y1="315.35" x2="310.5" y2="264.4" stroke="#666" stroke-width="1.2" stroke-dasharray="1.4 2.4"/>
<g fill="#1f77b4" clip-path="url(#ci)"><circle cx="239.80" cy="306.50" r="2.9"/><circle cx="241.80" cy="306.30" r="2.9"/><circle cx="243.80" cy="306.10" r="2.9"/><circle cx="247.40" cy="294.80" r="2.9"/><circle cx="250.65" cy="280.65" r="2.9"/><circle cx="253.90" cy="280.65" r="2.9"/><circle cx="257.20" cy="284.60" r="2.9"/><circle cx="260.40" cy="301.70" r="2.9"/><circle cx="263.70" cy="302.80" r="2.9"/><circle cx="268.00" cy="281.10" r="2.9"/><circle cx="271.30" cy="283.30" r="2.9"/><circle cx="275.20" cy="302.00" r="2.9"/><circle cx="285.40" cy="289.80" r="2.9"/><circle cx="289.80" cy="283.30" r="2.9"/><circle cx="294.10" cy="305.65" r="2.9"/><circle cx="299.60" cy="307.40" r="2.9"/><circle cx="302.40" cy="295.90" r="2.9"/><circle cx="305.65" cy="310.40" r="2.9"/></g>
<g fill="#1f77b4" clip-path="url(#ci)"><circle cx="310.90" cy="286.00" r="2.9"/><circle cx="309.60" cy="287.50" r="2.9"/><circle cx="311.30" cy="289.00" r="2.9"/><circle cx="309.80" cy="290.50" r="2.9"/><circle cx="311.00" cy="292.00" r="2.9"/><circle cx="309.70" cy="293.50" r="2.9"/><circle cx="310.80" cy="295.00" r="2.9"/><circle cx="310.20" cy="296.50" r="2.9"/></g>
<path d="M236.01,298.59 L236.10,298.56 L236.19,298.53 L236.28,298.50 L236.38,298.47 L236.47,298.44 L236.56,298.41 L236.65,298.38 L236.74,298.35 L236.83,298.33 L236.92,298.30 L237.01,298.27 L237.11,298.24 L237.20,298.21 L237.29,298.18 L237.38,298.15 L237.47,298.12 L237.56,298.09 L237.65,298.06 L237.74,298.03 L237.84,298.00 L237.93,297.97 L238.02,297.94 L238.11,297.91 L238.20,297.88 L238.29,297.85 L238.38,297.82 L238.47,297.79 L238.56,297.76 L238.66,297.73 L238.75,297.70 L238.84,297.67 L238.93,297.64 L239.02,297.61 L239.11,297.58 L239.20,297.55 L239.29,297.52 L239.39,297.49 L239.48,297.46 L239.57,297.43 L239.66,297.39 L239.75,297.36 L239.84,297.33 L239.93,297.30 L240.02,297.27 L240.12,297.24 L240.21,297.21 L240.30,297.18 L240.39,297.15 L240.48,297.12 L240.57,297.09 L240.66,297.06 L240.75,297.03 L240.84,297.00 L240.94,296.96 L241.03,296.93 L241.12,296.90 L241.21,296.87 L241.30,296.84 L241.39,296.81 L241.48,296.78 L241.57,296.75 L241.67,296.72 L241.76,296.68 L241.85,296.65 L241.94,296.62 L242.03,296.59 L242.12,296.56 L242.21,296.53 L242.30,296.50 L242.40,296.46 L242.49,296.43 L242.58,296.40 L242.67,296.37 L242.76,296.34 L242.85,296.31 L242.94,296.28 L243.03,296.24 L243.12,296.21 L243.22,296.18 L243.31,296.15 L243.40,296.12 L243.49,296.08 L243.58,296.05 L243.67,296.02 L243.76,295.99 L243.85,295.96 L243.95,295.93 L244.04,295.89 L244.13,295.86 L244.22,295.83 L244.31,295.80 L244.40,295.76 L244.49,295.73 L244.58,295.70 L244.68,295.67 L244.77,295.64 L244.86,295.60 L244.95,295.57 L245.04,295.54 L245.13,295.51 L245.22,295.47 L245.31,295.44 L245.40,295.41 L245.50,295.38 L245.59,295.34 L245.68,295.31 L245.77,295.28 L245.86,295.25 L245.95,295.21 L246.04,295.18 L246.13,295.15 L246.23,295.12 L246.32,295.08 L246.41,295.05 L246.50,295.02 L246.59,294.98 L246.68,294.95 L246.77,294.92 L246.86,294.89 L246.96,294.85 L247.05,294.82 L247.14,294.79 L247.23,294.75 L247.32,294.72 L247.41,294.69 L247.50,294.65 L247.59,294.62 L247.69,294.59 L247.78,294.56 L247.87,294.52 L247.96,294.49 L248.05,294.46 L248.14,294.42 L248.23,294.39 L248.32,294.36 L248.41,294.32 L248.51,294.29 L248.60,294.25 L248.69,294.22 L248.78,294.19 L248.87,294.15 L248.96,294.12 L249.05,294.09 L249.14,294.05 L249.24,294.02 L249.33,293.99 L249.42,293.95 L249.51,293.92 L249.60,293.88 L249.69,293.85 L249.78,293.82 L249.87,293.78 L249.97,293.75 L250.06,293.72 L250.15,293.68 L250.24,293.65 L250.33,293.61 L250.42,293.58 L250.51,293.55 L250.60,293.51 L250.69,293.48 L250.79,293.44 L250.88,293.41 L250.97,293.37 L251.06,293.34 L251.15,293.30 L251.24,293.27 L251.33,293.23 L251.42,293.20 L251.52,293.16 L251.61,293.13 L251.70,293.09 L251.79,293.06 L251.88,293.02 L251.97,292.99 L252.06,292.95 L252.15,292.92 L252.25,292.88 L252.34,292.85 L252.43,292.81 L252.52,292.78 L252.61,292.74 L252.70,292.71 L252.79,292.67 L252.88,292.63 L252.97,292.60 L253.07,292.56 L253.16,292.53 L253.25,292.49 L253.34,292.45 L253.43,292.42 L253.52,292.38 L253.61,292.35 L253.70,292.31 L253.80,292.27 L253.89,292.24 L253.98,292.20 L254.07,292.17 L254.16,292.13 L254.25,292.09 L254.34,292.06 L254.43,292.02 L254.53,291.98 L254.62,291.95 L254.71,291.91 L254.80,291.87 L254.89,291.84 L254.98,291.80 L255.07,291.76 L255.16,291.73 L255.25,291.69 L255.35,291.65 L255.44,291.62 L255.53,291.58 L255.62,291.54 L255.71,291.51 L255.80,291.47 L255.89,291.43 L255.98,291.39 L256.08,291.36 L256.17,291.32 L256.26,291.28 L256.35,291.25 L256.44,291.21 L256.53,291.17 L256.62,291.13 L256.71,291.10 L256.81,291.06 L256.90,291.02 L256.99,290.99 L257.08,290.95 L257.17,290.91 L257.26,290.87 L257.35,290.84 L257.44,290.80 L257.53,290.76 L257.63,290.72 L257.72,290.69 L257.81,290.65 L257.90,290.61 L257.99,290.58 L258.08,290.54 L258.17,290.50 L258.26,290.46 L258.36,290.43 L258.45,290.39 L258.54,290.35 L258.63,290.31 L258.72,290.28 L258.81,290.24 L258.90,290.20 L258.99,290.16 L259.09,290.13 L259.18,290.09 L259.27,290.05 L259.36,290.01 L259.45,289.98 L259.54,289.94 L259.63,289.90 L259.72,289.86 L259.81,289.83 L259.91,289.79 L260.00,289.75 L260.09,289.71 L260.18,289.68 L260.27,289.64 L260.36,289.60 L260.45,289.56 L260.54,289.53 L260.64,289.49 L260.73,289.45 L260.82,289.41 L260.91,289.38 L261.00,289.34 L261.09,289.30 L261.18,289.26 L261.27,289.23 L261.37,289.19 L261.46,289.15 L261.55,289.12 L261.64,289.08 L261.73,289.04 L261.82,289.00 L261.91,288.97 L262.00,288.93 L262.09,288.89 L262.19,288.85 L262.28,288.82 L262.37,288.78 L262.46,288.74 L262.55,288.71 L262.64,288.67 L262.73,288.63 L262.82,288.60 L262.92,288.56 L263.01,288.52 L263.10,288.48 L263.19,288.45 L263.28,288.41 L263.37,288.37 L263.46,288.34 L263.55,288.30 L263.65,288.26 L263.74,288.23 L263.83,288.19 L263.92,288.15 L264.01,288.12 L264.10,288.08 L264.19,288.04 L264.28,288.01 L264.37,287.97 L264.47,287.93 L264.56,287.90 L264.65,287.86 L264.74,287.83 L264.83,287.79 L264.92,287.75 L265.01,287.72 L265.10,287.68 L265.20,287.64 L265.29,287.61 L265.38,287.57 L265.47,287.53 L265.56,287.50 L265.65,287.46 L265.74,287.42 L265.83,287.39 L265.93,287.35 L266.02,287.32 L266.11,287.28 L266.20,287.24 L266.29,287.21 L266.38,287.17 L266.47,287.13 L266.56,287.10 L266.65,287.06 L266.75,287.02 L266.84,286.99 L266.93,286.95 L267.02,286.92 L267.11,286.88 L267.20,286.84 L267.29,286.81 L267.38,286.77 L267.48,286.73 L267.57,286.70 L267.66,286.66 L267.75,286.62 L267.84,286.59 L267.93,286.55 L268.02,286.52 L268.11,286.48 L268.21,286.44 L268.30,286.41 L268.39,286.37 L268.48,286.33 L268.57,286.30 L268.66,286.26 L268.75,286.23 L268.84,286.19 L268.94,286.15 L269.03,286.12 L269.12,286.08 L269.21,286.04 L269.30,286.01 L269.39,285.97 L269.48,285.94 L269.57,285.90 L269.66,285.86 L269.76,285.83 L269.85,285.79 L269.94,285.75 L270.03,285.72 L270.12,285.68 L270.21,285.64 L270.30,285.61 L270.39,285.57 L270.49,285.54 L270.58,285.50 L270.67,285.46 L270.76,285.43 L270.85,285.39 L270.94,285.35 L271.03,285.32 L271.12,285.28 L271.22,285.25 L271.31,285.21 L271.40,285.17 L271.49,285.14 L271.58,285.10 L271.67,285.06 L271.76,285.03 L271.85,284.99 L271.94,284.96 L272.04,284.92 L272.13,284.88 L272.22,284.85 L272.31,284.81 L272.40,284.77 L272.49,284.74 L272.58,284.70 L272.67,284.67 L272.77,284.63 L272.86,284.59 L272.95,284.56 L273.04,284.52 L273.13,284.48 L273.22,284.45 L273.31,284.41 L273.40,284.38 L273.50,284.34 L273.59,284.30 L273.68,284.27 L273.77,284.23 L273.86,284.19 L273.95,284.16 L274.04,284.12 L274.13,284.08 L274.22,284.05 L274.32,284.01 L274.41,283.98 L274.50,283.94 L274.59,283.90 L274.68,283.87 L274.77,283.83 L274.86,283.79 L274.95,283.76 L275.05,283.72 L275.14,283.69 L275.23,283.65 L275.32,283.61 L275.41,283.58 L275.50,283.54 L275.59,283.50 L275.68,283.47 L275.78,283.43 L275.87,283.39 L275.96,283.36 L276.05,283.32 L276.14,283.29 L276.23,283.25 L276.32,283.21 L276.41,283.18 L276.50,283.14 L276.60,283.10 L276.69,283.07 L276.78,283.03 L276.87,282.99 L276.96,282.96 L277.05,282.92 L277.14,282.89 L277.23,282.85 L277.33,282.81 L277.42,282.78 L277.51,282.74 L277.60,282.70 L277.69,282.67 L277.78,282.63 L277.87,282.59 L277.96,282.56 L278.06,282.52 L278.15,282.48 L278.24,282.45 L278.33,282.41 L278.42,282.38 L278.51,282.34 L278.60,282.30 L278.69,282.27 L278.78,282.23 L278.88,282.19 L278.97,282.16 L279.06,282.12 L279.15,282.08 L279.24,282.05 L279.33,282.01 L279.42,281.97 L279.51,281.93 L279.61,281.90 L279.70,281.86 L279.79,281.82 L279.88,281.79 L279.97,281.75 L280.06,281.71 L280.15,281.67 L280.24,281.64 L280.34,281.60 L280.43,281.56 L280.52,281.52 L280.61,281.49 L280.70,281.45 L280.79,281.41 L280.88,281.37 L280.97,281.34 L281.06,281.30 L281.16,281.26 L281.25,281.22 L281.34,281.19 L281.43,281.15 L281.52,281.11 L281.61,281.07 L281.70,281.04 L281.79,281.00 L281.89,280.96 L281.98,280.92 L282.07,280.89 L282.16,280.85 L282.25,280.81 L282.34,280.77 L282.43,280.73 L282.52,280.70 L282.62,280.66 L282.71,280.62 L282.80,280.58 L282.89,280.54 L282.98,280.51 L283.07,280.47 L283.16,280.43 L283.25,280.39 L283.34,280.36 L283.44,280.32 L283.53,280.28 L283.62,280.24 L283.71,280.20 L283.80,280.17 L283.89,280.13 L283.98,280.09 L284.07,280.05 L284.17,280.01 L284.26,279.98 L284.35,279.94 L284.44,279.90 L284.53,279.86 L284.62,279.83 L284.71,279.79 L284.80,279.75 L284.90,279.71 L284.99,279.67 L285.08,279.64 L285.17,279.60 L285.26,279.56 L285.35,279.52 L285.44,279.49 L285.53,279.45 L285.62,279.41 L285.72,279.37 L285.81,279.34 L285.90,279.30 L285.99,279.26 L286.08,279.22 L286.17,279.19 L286.26,279.15 L286.35,279.11 L286.45,279.07 L286.54,279.04 L286.63,279.00 L286.72,278.96 L286.81,278.93 L286.90,278.89 L286.99,278.85 L287.08,278.81 L287.18,278.78 L287.27,278.74 L287.36,278.70 L287.45,278.67 L287.54,278.63 L287.63,278.59 L287.72,278.56 L287.81,278.52 L287.91,278.48 L288.00,278.45 L288.09,278.41 L288.18,278.37 L288.27,278.34 L288.36,278.30 L288.45,278.26 L288.54,278.23 L288.63,278.19 L288.73,278.16 L288.82,278.12 L288.91,278.08 L289.00,278.05 L289.09,278.01 L289.18,277.98 L289.27,277.94 L289.36,277.90 L289.46,277.87 L289.55,277.83 L289.64,277.80 L289.73,277.76 L289.82,277.73 L289.91,277.69 L290.00,277.66 L290.09,277.62 L290.19,277.58 L290.28,277.55 L290.37,277.51 L290.46,277.48 L290.55,277.45 L290.64,277.41 L290.73,277.38 L290.82,277.34 L290.91,277.31 L291.01,277.27 L291.10,277.24 L291.19,277.20 L291.28,277.17 L291.37,277.14 L291.46,277.10 L291.55,277.07 L291.64,277.03 L291.74,277.00 L291.83,276.97 L291.92,276.93 L292.01,276.90 L292.10,276.87 L292.19,276.83 L292.28,276.80 L292.37,276.77 L292.47,276.73 L292.56,276.70 L292.65,276.67 L292.74,276.63 L292.83,276.60 L292.92,276.57 L293.01,276.54 L293.10,276.50 L293.19,276.47 L293.29,276.44 L293.38,276.41 L293.47,276.37 L293.56,276.34 L293.65,276.31 L293.74,276.27 L293.83,276.24 L293.92,276.21 L294.02,276.18 L294.11,276.14 L294.20,276.11 L294.29,276.08 L294.38,276.05 L294.47,276.02 L294.56,275.98 L294.65,275.95 L294.75,275.92 L294.84,275.89 L294.93,275.85 L295.02,275.82 L295.11,275.79 L295.20,275.76 L295.29,275.73 L295.38,275.70 L295.47,275.66 L295.57,275.63 L295.66,275.60 L295.75,275.57 L295.84,275.54 L295.93,275.51 L296.02,275.48 L296.11,275.45 L296.20,275.41 L296.30,275.38 L296.39,275.35 L296.48,275.32 L296.57,275.29 L296.66,275.26 L296.75,275.23 L296.84,275.20 L296.93,275.17 L297.03,275.14 L297.12,275.11 L297.21,275.08 L297.30,275.05 L297.39,275.02 L297.48,275.00 L297.57,274.97 L297.66,274.94 L297.75,274.91 L297.85,274.88 L297.94,274.85 L298.03,274.82 L298.12,274.80 L298.21,274.77 L298.30,274.74 L298.39,274.71 L298.48,274.68 L298.58,274.66 L298.67,274.63 L298.76,274.60 L298.85,274.58 L298.94,274.55 L299.03,274.52 L299.12,274.50 L299.21,274.47 L299.31,274.45 L299.40,274.42 L299.49,274.40 L299.58,274.37 L299.67,274.34 L299.76,274.32 L299.85,274.29 L299.94,274.26 L300.03,274.23 L300.13,274.21 L300.22,274.18 L300.31,274.15 L300.40,274.12 L300.49,274.09 L300.58,274.06 L300.67,274.03 L300.76,274.00 L300.86,273.97 L300.95,273.94 L301.04,273.91 L301.13,273.88 L301.22,273.85 L301.31,273.83 L301.40,273.80 L301.49,273.77 L301.59,273.75 L301.68,273.72 L301.77,273.70 L301.86,273.68 L301.95,273.65 L302.04,273.63 L302.13,273.61 L302.22,273.59 L302.31,273.58 L302.41,273.56 L302.50,273.55 L302.59,273.53 L302.68,273.52 L302.77,273.51 L302.86,273.50 L302.95,273.50 L303.04,273.49 L303.14,273.49 L303.23,273.49 L303.32,273.49 L303.41,273.49 L303.50,273.49 L303.59,273.50 L303.68,273.50 L303.77,273.50 L303.87,273.51 L303.96,273.51 L304.05,273.52 L304.14,273.53 L304.23,273.53 L304.32,273.54 L304.41,273.55 L304.50,273.56 L304.59,273.57 L304.69,273.58 L304.78,273.59 L304.87,273.60 L304.96,273.61 L305.05,273.62 L305.14,273.64 L305.23,273.65 L305.32,273.66 L305.42,273.68 L305.51,273.70 L305.60,273.71 L305.69,273.73 L305.78,273.75 L305.87,273.77 L305.96,273.80 L306.05,273.84 L306.15,273.90 L306.24,273.96 L306.33,274.04 L306.42,274.12 L306.51,274.21 L306.60,274.31 L306.69,274.42 L306.78,274.54 L306.87,274.67 L306.97,274.81 L307.06,274.95 L307.15,275.10 L307.24,275.26 L307.33,275.42 L307.42,275.60 L307.51,275.77 L307.60,275.96 L307.70,276.17 L307.79,276.45 L307.88,276.80 L307.97,277.21 L308.06,277.66 L308.15,278.17 L308.24,278.71 L308.33,279.29 L308.43,279.90 L308.52,280.54 L308.61,281.19 L308.70,281.85 L308.79,282.52 L308.88,283.19 L308.97,283.85 L309.06,284.50 L309.16,285.17 L309.25,285.99 L309.34,286.92 L309.43,287.91 L309.52,288.90 L309.61,289.85 L309.70,290.71 L309.79,291.43 L309.88,291.95 L309.98,292.22 L310.07,292.23 L310.16,292.08 L310.25,291.82 L310.34,291.45 L310.43,290.99 L310.52,290.46 L310.61,289.88 L310.71,289.26 L310.80,288.61 L310.89,287.97 L310.98,287.34 L311.07,286.73 L311.16,286.16 L311.25,285.53 L311.34,284.84 L311.44,284.10 L311.53,283.33 L311.62,282.54 L311.71,281.75 L311.80,280.96 L311.89,280.20 L311.98,279.48 L312.07,278.81 L312.16,278.21 L312.26,277.70 L312.35,277.28 L312.44,276.97 L312.53,276.69 L312.62,276.43 L312.71,276.17 L312.80,275.93 L312.89,275.70 L312.99,275.49 L313.08,275.29 L313.17,275.10 L313.26,274.93 L313.35,274.77 L313.44,274.62 L313.53,274.50 L313.62,274.39 L313.72,274.29 L313.81,274.22 L313.90,274.16 L313.99,274.11 L314.08,274.06 L314.17,274.01 L314.26,273.97 L314.35,273.93 L314.44,273.89 L314.54,273.85 L314.63,273.81 L314.72,273.78 L314.81,273.75 L314.90,273.72 L314.99,273.69 L315.08,273.67 L315.17,273.65 L315.27,273.63 L315.36,273.61 L315.45,273.60 L315.54,273.59 L315.63,273.58 L315.72,273.58 L315.81,273.57 L315.90,273.57 L316.00,273.57 L316.09,273.56 L316.18,273.56 L316.27,273.56 L316.36,273.56 L316.45,273.55 L316.54,273.55 L316.63,273.55 L316.72,273.55 L316.82,273.54 L316.91,273.54 L317.00,273.54 L317.09,273.54 L317.18,273.54 L317.27,273.54 L317.36,273.54 L317.45,273.54 L317.55,273.53 L317.64,273.53 L317.73,273.53 L317.82,273.53 L317.91,273.53 L318.00,273.53" fill="none" stroke="#1c8035" stroke-width="2.2" stroke-linejoin="round" clip-path="url(#ci)"/>
<rect x="236.70" y="264.40" width="80.50" height="50.95" fill="none" stroke="#000" stroke-width="1.2"/>
<line x1="236.60" y1="315.35" x2="236.60" y2="320.15" stroke="#000" stroke-width="1.2"/>
<text x="236.60" y="331.75" text-anchor="middle" font-size="10">−0.2</text>
<line x1="273.40" y1="315.35" x2="273.40" y2="320.15" stroke="#000" stroke-width="1.2"/>
<text x="273.40" y="331.75" text-anchor="middle" font-size="10">−0.1</text>
<line x1="310.20" y1="315.35" x2="310.20" y2="320.15" stroke="#000" stroke-width="1.2"/>
<text x="310.20" y="331.75" text-anchor="middle" font-size="10">0.0</text>
<line x1="231.90" y1="315.35" x2="236.70" y2="315.35" stroke="#000" stroke-width="1.2"/>
<text x="226.90" y="319.85" text-anchor="end" font-size="10">0</text>
<line x1="231.90" y1="289.83" x2="236.70" y2="289.83" stroke="#000" stroke-width="1.2"/>
<text x="226.90" y="294.33" text-anchor="end" font-size="10">60</text>
<line x1="231.90" y1="264.30" x2="236.70" y2="264.30" stroke="#000" stroke-width="1.2"/>
<text x="226.90" y="268.80" text-anchor="end" font-size="10">120</text>
<line x1="519.5" y1="336.0" x2="519.5" y2="192.5" stroke="#666" stroke-width="1.2" stroke-dasharray="1.4 2.4" stroke-dashoffset="2.9"/>
<polygon points="461.78,305.04 473.01,293.58 484.47,283.06 495.70,265.04 507.08,256.25 530.20,254.67 540.79,257.48 552.25,269.94 567.30,291.13 578.54,304.25 578.54,318.25 567.30,305.13 552.25,283.94 540.79,271.48 530.20,268.67 507.08,270.25 495.70,279.04 484.47,297.06 473.01,307.58 461.78,319.04" fill="#aabbdf" fill-opacity="0.6"/>
<rect x="515" y="260.5" width="9" height="32.4" fill="#aabbdf" fill-opacity="0.6"/>
<path d="M375.34,323.34 L375.65,323.30 L375.95,323.27 L376.26,323.23 L376.57,323.19 L376.87,323.15 L377.18,323.11 L377.49,323.07 L377.80,323.03 L378.10,322.99 L378.41,322.95 L378.72,322.91 L379.02,322.87 L379.33,322.83 L379.64,322.79 L379.94,322.75 L380.25,322.71 L380.56,322.66 L380.86,322.62 L381.17,322.58 L381.48,322.54 L381.78,322.50 L382.09,322.45 L382.40,322.41 L382.71,322.37 L383.01,322.33 L383.32,322.28 L383.63,322.24 L383.93,322.20 L384.24,322.15 L384.55,322.11 L384.85,322.06 L385.16,322.02 L385.47,321.97 L385.77,321.93 L386.08,321.88 L386.39,321.84 L386.70,321.79 L387.00,321.75 L387.31,321.70 L387.62,321.66 L387.92,321.61 L388.23,321.56 L388.54,321.52 L388.84,321.47 L389.15,321.42 L389.46,321.37 L389.76,321.33 L390.07,321.28 L390.38,321.23 L390.68,321.18 L390.99,321.13 L391.30,321.08 L391.61,321.03 L391.91,320.98 L392.22,320.93 L392.53,320.88 L392.83,320.83 L393.14,320.78 L393.45,320.73 L393.75,320.68 L394.06,320.63 L394.37,320.58 L394.67,320.53 L394.98,320.47 L395.29,320.42 L395.60,320.37 L395.90,320.32 L396.21,320.26 L396.52,320.21 L396.82,320.15 L397.13,320.10 L397.44,320.05 L397.74,319.99 L398.05,319.94 L398.36,319.88 L398.66,319.82 L398.97,319.77 L399.28,319.71 L399.58,319.66 L399.89,319.60 L400.20,319.54 L400.51,319.48 L400.81,319.43 L401.12,319.37 L401.43,319.31 L401.73,319.25 L402.04,319.19 L402.35,319.13 L402.65,319.07 L402.96,319.01 L403.27,318.95 L403.57,318.89 L403.88,318.83 L404.19,318.77 L404.49,318.70 L404.80,318.64 L405.11,318.58 L405.42,318.52 L405.72,318.45 L406.03,318.39 L406.34,318.32 L406.64,318.26 L406.95,318.19 L407.26,318.13 L407.56,318.06 L407.87,317.99 L408.18,317.93 L408.48,317.86 L408.79,317.79 L409.10,317.73 L409.41,317.66 L409.71,317.59 L410.02,317.52 L410.33,317.45 L410.63,317.38 L410.94,317.31 L411.25,317.24 L411.55,317.16 L411.86,317.09 L412.17,317.02 L412.47,316.95 L412.78,316.87 L413.09,316.80 L413.39,316.73 L413.70,316.65 L414.01,316.57 L414.32,316.50 L414.62,316.42 L414.93,316.35 L415.24,316.27 L415.54,316.19 L415.85,316.11 L416.16,316.03 L416.46,315.95 L416.77,315.87 L417.08,315.79 L417.38,315.71 L417.69,315.63 L418.00,315.55 L418.31,315.46 L418.61,315.38 L418.92,315.29 L419.23,315.21 L419.53,315.12 L419.84,315.04 L420.15,314.95 L420.45,314.86 L420.76,314.78 L421.07,314.69 L421.37,314.60 L421.68,314.51 L421.99,314.42 L422.29,314.33 L422.60,314.24 L422.91,314.14 L423.22,314.05 L423.52,313.96 L423.83,313.86 L424.14,313.77 L424.44,313.67 L424.75,313.57 L425.06,313.48 L425.36,313.38 L425.67,313.28 L425.98,313.18 L426.28,313.08 L426.59,312.98 L426.90,312.87 L427.21,312.77 L427.51,312.67 L427.82,312.56 L428.13,312.46 L428.43,312.35 L428.74,312.24 L429.05,312.14 L429.35,312.03 L429.66,311.92 L429.97,311.81 L430.27,311.70 L430.58,311.58 L430.89,311.47 L431.19,311.36 L431.50,311.24 L431.81,311.12 L432.12,311.01 L432.42,310.89 L432.73,310.77 L433.04,310.65 L433.34,310.53 L433.65,310.41 L433.96,310.28 L434.26,310.16 L434.57,310.03 L434.88,309.91 L435.18,309.78 L435.49,309.65 L435.80,309.52 L436.11,309.39 L436.41,309.26 L436.72,309.12 L437.03,308.99 L437.33,308.85 L437.64,308.71 L437.95,308.58 L438.25,308.44 L438.56,308.29 L438.87,308.15 L439.17,308.01 L439.48,307.86 L439.79,307.72 L440.09,307.57 L440.40,307.42 L440.71,307.27 L441.02,307.12 L441.32,306.96 L441.63,306.81 L441.94,306.65 L442.24,306.50 L442.55,306.34 L442.86,306.18 L443.16,306.01 L443.47,305.85 L443.78,305.68 L444.08,305.52 L444.39,305.35 L444.70,305.18 L445.01,305.00 L445.31,304.83 L445.62,304.65 L445.93,304.47 L446.23,304.30 L446.54,304.11 L446.85,303.93 L447.15,303.74 L447.46,303.56 L447.77,303.37 L448.07,303.18 L448.38,302.98 L448.69,302.79 L448.99,302.59 L449.30,302.39 L449.61,302.19 L449.92,301.99 L450.22,301.78 L450.53,301.57 L450.84,301.36 L451.14,301.15 L451.45,300.93 L451.76,300.71 L452.06,300.49 L452.37,300.27 L452.68,300.05 L452.98,299.82 L453.29,299.59 L453.60,299.35 L453.91,299.12 L454.21,298.88 L454.52,298.64 L454.83,298.39 L455.13,298.15 L455.44,297.90 L455.75,297.64 L456.05,297.39 L456.36,297.13 L456.67,296.87 L456.97,296.60 L457.28,296.33 L457.59,296.06 L457.89,295.78 L458.20,295.51 L458.51,295.22 L458.82,294.94 L459.12,294.65 L459.43,294.36 L459.74,294.06 L460.04,293.76 L460.35,293.45 L460.66,293.15 L460.96,292.83 L461.27,292.52 L461.58,292.20 L461.88,291.87 L462.19,291.55 L462.50,291.21 L462.81,290.87 L463.11,290.53 L463.42,290.19 L463.73,289.83 L464.03,289.48 L464.34,289.12 L464.65,288.75 L464.95,288.38 L465.26,288.00 L465.57,287.62 L465.87,287.24 L466.18,286.84 L466.49,286.45 L466.79,286.04 L467.10,285.63 L467.41,285.22 L467.72,284.80 L468.02,284.37 L468.33,283.94 L468.64,283.50 L468.94,283.05 L469.25,282.60 L469.56,282.14 L469.86,281.68 L470.17,281.20 L470.48,280.72 L470.78,280.23 L471.09,279.74 L471.40,279.24 L471.70,278.73 L472.01,278.21 L472.32,277.68 L472.63,277.15 L472.93,276.61 L473.24,276.05 L473.55,275.49 L473.85,274.93 L474.16,274.35 L474.47,273.76 L474.77,273.16 L475.08,272.56 L475.39,271.94 L475.69,271.31 L476.00,270.68 L476.31,270.03 L476.62,269.37 L476.92,268.70 L477.23,268.02 L477.54,267.33 L477.84,266.63 L478.15,265.91 L478.46,265.18 L478.76,264.44 L479.07,263.69 L479.38,262.93 L479.68,262.15 L479.99,261.35 L480.30,260.55 L480.60,259.72 L480.91,258.89 L481.22,258.04 L481.53,257.17 L481.83,256.29 L482.14,255.39 L482.45,254.48 L482.75,253.55 L483.06,252.60 L483.37,251.63 L483.67,250.65 L483.98,249.65 L484.29,248.63 L484.59,247.59 L484.90,246.53 L485.21,245.45 L485.52,244.36 L485.82,243.24 L486.13,242.09 L486.44,240.93 L486.74,239.75 L487.05,238.54 L487.36,237.31 L487.66,236.05 L487.97,234.77 L488.28,233.47 L488.58,232.14 L488.89,230.78 L489.20,229.40 L489.50,227.99 L489.81,226.55 L490.12,225.08 L490.43,223.58 L490.73,222.06 L491.04,220.50 L491.35,218.91 L491.65,217.29 L491.96,215.64 L492.27,213.95 L492.57,212.23 L492.88,210.48 L493.19,208.69 L493.49,206.86 L493.80,205.00 L494.11,203.10 L494.42,201.16 L494.72,199.18 L495.03,197.17 L495.34,195.11 L495.64,193.01 L495.95,190.87 L496.26,188.68 L496.56,186.45 L496.87,184.18 L497.18,181.86 L497.48,179.50 L497.79,177.09" fill="none" stroke="#1c8035" stroke-width="2.2" stroke-linejoin="round" stroke-dasharray="7.95 3.5" stroke-dashoffset="6.75" clip-path="url(#ce)"/>
<path d="M663.46,323.34 L663.15,323.30 L662.85,323.27 L662.54,323.23 L662.23,323.19 L661.93,323.15 L661.62,323.11 L661.31,323.07 L661.00,323.03 L660.70,322.99 L660.39,322.95 L660.08,322.91 L659.78,322.87 L659.47,322.83 L659.16,322.79 L658.86,322.75 L658.55,322.71 L658.24,322.66 L657.94,322.62 L657.63,322.58 L657.32,322.54 L657.02,322.50 L656.71,322.45 L656.40,322.41 L656.09,322.37 L655.79,322.33 L655.48,322.28 L655.17,322.24 L654.87,322.20 L654.56,322.15 L654.25,322.11 L653.95,322.06 L653.64,322.02 L653.33,321.97 L653.03,321.93 L652.72,321.88 L652.41,321.84 L652.10,321.79 L651.80,321.75 L651.49,321.70 L651.18,321.66 L650.88,321.61 L650.57,321.56 L650.26,321.52 L649.96,321.47 L649.65,321.42 L649.34,321.37 L649.04,321.33 L648.73,321.28 L648.42,321.23 L648.12,321.18 L647.81,321.13 L647.50,321.08 L647.19,321.03 L646.89,320.98 L646.58,320.93 L646.27,320.88 L645.97,320.83 L645.66,320.78 L645.35,320.73 L645.05,320.68 L644.74,320.63 L644.43,320.58 L644.13,320.53 L643.82,320.47 L643.51,320.42 L643.20,320.37 L642.90,320.32 L642.59,320.26 L642.28,320.21 L641.98,320.15 L641.67,320.10 L641.36,320.05 L641.06,319.99 L640.75,319.94 L640.44,319.88 L640.14,319.82 L639.83,319.77 L639.52,319.71 L639.22,319.66 L638.91,319.60 L638.60,319.54 L638.29,319.48 L637.99,319.43 L637.68,319.37 L637.37,319.31 L637.07,319.25 L636.76,319.19 L636.45,319.13 L636.15,319.07 L635.84,319.01 L635.53,318.95 L635.23,318.89 L634.92,318.83 L634.61,318.77 L634.30,318.70 L634.00,318.64 L633.69,318.58 L633.38,318.52 L633.08,318.45 L632.77,318.39 L632.46,318.32 L632.16,318.26 L631.85,318.19 L631.54,318.13 L631.24,318.06 L630.93,317.99 L630.62,317.93 L630.32,317.86 L630.01,317.79 L629.70,317.73 L629.39,317.66 L629.09,317.59 L628.78,317.52 L628.47,317.45 L628.17,317.38 L627.86,317.31 L627.55,317.24 L627.25,317.16 L626.94,317.09 L626.63,317.02 L626.33,316.95 L626.02,316.87 L625.71,316.80 L625.41,316.73 L625.10,316.65 L624.79,316.57 L624.48,316.50 L624.18,316.42 L623.87,316.35 L623.56,316.27 L623.26,316.19 L622.95,316.11 L622.64,316.03 L622.34,315.95 L622.03,315.87 L621.72,315.79 L621.42,315.71 L621.11,315.63 L620.80,315.55 L620.49,315.46 L620.19,315.38 L619.88,315.29 L619.57,315.21 L619.27,315.12 L618.96,315.04 L618.65,314.95 L618.35,314.86 L618.04,314.78 L617.73,314.69 L617.43,314.60 L617.12,314.51 L616.81,314.42 L616.51,314.33 L616.20,314.24 L615.89,314.14 L615.58,314.05 L615.28,313.96 L614.97,313.86 L614.66,313.77 L614.36,313.67 L614.05,313.57 L613.74,313.48 L613.44,313.38 L613.13,313.28 L612.82,313.18 L612.52,313.08 L612.21,312.98 L611.90,312.87 L611.59,312.77 L611.29,312.67 L610.98,312.56 L610.67,312.46 L610.37,312.35 L610.06,312.24 L609.75,312.14 L609.45,312.03 L609.14,311.92 L608.83,311.81 L608.53,311.70 L608.22,311.58 L607.91,311.47 L607.61,311.36 L607.30,311.24 L606.99,311.12 L606.68,311.01 L606.38,310.89 L606.07,310.77 L605.76,310.65 L605.46,310.53 L605.15,310.41 L604.84,310.28 L604.54,310.16 L604.23,310.03 L603.92,309.91 L603.62,309.78 L603.31,309.65 L603.00,309.52 L602.69,309.39 L602.39,309.26 L602.08,309.12 L601.77,308.99 L601.47,308.85 L601.16,308.71 L600.85,308.58 L600.55,308.44 L600.24,308.29 L599.93,308.15 L599.63,308.01 L599.32,307.86 L599.01,307.72 L598.71,307.57 L598.40,307.42 L598.09,307.27 L597.78,307.12 L597.48,306.96 L597.17,306.81 L596.86,306.65 L596.56,306.50 L596.25,306.34 L595.94,306.18 L595.64,306.01 L595.33,305.85 L595.02,305.68 L594.72,305.52 L594.41,305.35 L594.10,305.18 L593.79,305.00 L593.49,304.83 L593.18,304.65 L592.87,304.47 L592.57,304.30 L592.26,304.11 L591.95,303.93 L591.65,303.74 L591.34,303.56 L591.03,303.37 L590.73,303.18 L590.42,302.98 L590.11,302.79 L589.81,302.59 L589.50,302.39 L589.19,302.19 L588.88,301.99 L588.58,301.78 L588.27,301.57 L587.96,301.36 L587.66,301.15 L587.35,300.93 L587.04,300.71 L586.74,300.49 L586.43,300.27 L586.12,300.05 L585.82,299.82 L585.51,299.59 L585.20,299.35 L584.89,299.12 L584.59,298.88 L584.28,298.64 L583.97,298.39 L583.67,298.15 L583.36,297.90 L583.05,297.64 L582.75,297.39 L582.44,297.13 L582.13,296.87 L581.83,296.60 L581.52,296.33 L581.21,296.06 L580.91,295.78 L580.60,295.51 L580.29,295.22 L579.98,294.94 L579.68,294.65 L579.37,294.36 L579.06,294.06 L578.76,293.76 L578.45,293.45 L578.14,293.15 L577.84,292.83 L577.53,292.52 L577.22,292.20 L576.92,291.87 L576.61,291.55 L576.30,291.21 L576.00,290.87 L575.69,290.53 L575.38,290.19 L575.07,289.83 L574.77,289.48 L574.46,289.12 L574.15,288.75 L573.85,288.38 L573.54,288.00 L573.23,287.62 L572.93,287.24 L572.62,286.84 L572.31,286.45 L572.01,286.04 L571.70,285.63 L571.39,285.22 L571.08,284.80 L570.78,284.37 L570.47,283.94 L570.16,283.50 L569.86,283.05 L569.55,282.60 L569.24,282.14 L568.94,281.68 L568.63,281.20 L568.32,280.72 L568.02,280.23 L567.71,279.74 L567.40,279.24 L567.10,278.73 L566.79,278.21 L566.48,277.68 L566.17,277.15 L565.87,276.61 L565.56,276.05 L565.25,275.49 L564.95,274.93 L564.64,274.35 L564.33,273.76 L564.03,273.16 L563.72,272.56 L563.41,271.94 L563.11,271.31 L562.80,270.68 L562.49,270.03 L562.18,269.37 L561.88,268.70 L561.57,268.02 L561.26,267.33 L560.96,266.63 L560.65,265.91 L560.34,265.18 L560.04,264.44 L559.73,263.69 L559.42,262.93 L559.12,262.15 L558.81,261.35 L558.50,260.55 L558.20,259.72 L557.89,258.89 L557.58,258.04 L557.27,257.17 L556.97,256.29 L556.66,255.39 L556.35,254.48 L556.05,253.55 L555.74,252.60 L555.43,251.63 L555.13,250.65 L554.82,249.65 L554.51,248.63 L554.21,247.59 L553.90,246.53 L553.59,245.45 L553.28,244.36 L552.98,243.24 L552.67,242.09 L552.36,240.93 L552.06,239.75 L551.75,238.54 L551.44,237.31 L551.14,236.05 L550.83,234.77 L550.52,233.47 L550.22,232.14 L549.91,230.78 L549.60,229.40 L549.30,227.99 L548.99,226.55 L548.68,225.08 L548.37,223.58 L548.07,222.06 L547.76,220.50 L547.45,218.91 L547.15,217.29 L546.84,215.64 L546.53,213.95 L546.23,212.23 L545.92,210.48 L545.61,208.69 L545.31,206.86 L545.00,205.00 L544.69,203.10 L544.38,201.16 L544.08,199.18 L543.77,197.17 L543.46,195.11 L543.16,193.01 L542.85,190.87 L542.54,188.68 L542.24,186.45 L541.93,184.18 L541.62,181.86 L541.32,179.50 L541.01,177.09" fill="none" stroke="#1c8035" stroke-width="2.2" stroke-linejoin="round" stroke-dasharray="7.95 3.5" stroke-dashoffset="7.25" clip-path="url(#ce)"/>
<path d="M502.11,190.97 L502.46,191.51 L502.81,192.05 L503.16,192.57 L503.51,193.08 L503.86,193.58 L504.21,194.07 L504.56,194.55 L504.91,195.02 L505.26,195.47 L505.61,195.92 L505.95,196.35 L506.30,196.77 L506.65,197.18 L507.00,197.58 L507.35,197.97 L507.70,198.35 L508.05,198.72 L508.40,199.07 L508.75,199.42 L509.10,199.75 L509.45,200.07 L509.80,200.38 L510.15,200.68 L510.49,200.97 L510.84,201.25 L511.19,201.52 L511.54,201.77 L511.89,202.02 L512.24,202.25 L512.59,202.47 L512.94,202.68 L513.29,202.88 L513.64,203.07 L513.99,203.25 L514.34,203.42 L514.69,203.57 L515.03,203.72 L515.38,203.85 L515.73,203.97 L516.08,204.08 L516.43,204.18 L516.78,204.27 L517.13,204.35 L517.48,204.42 L517.83,204.47 L518.18,204.52 L518.53,204.55 L518.88,204.57 L519.23,204.58 L519.57,204.58 L519.92,204.57 L520.27,204.55 L520.62,204.52 L520.97,204.47 L521.32,204.42 L521.67,204.35 L522.02,204.27 L522.37,204.18 L522.72,204.08 L523.07,203.97 L523.42,203.85 L523.77,203.72 L524.11,203.57 L524.46,203.42 L524.81,203.25 L525.16,203.07 L525.51,202.88 L525.86,202.68 L526.21,202.47 L526.56,202.25 L526.91,202.02 L527.26,201.77 L527.61,201.52 L527.96,201.25 L528.31,200.97 L528.65,200.68 L529.00,200.38 L529.35,200.07 L529.70,199.75 L530.05,199.42 L530.40,199.07 L530.75,198.72 L531.10,198.35 L531.45,197.97 L531.80,197.58 L532.15,197.18 L532.50,196.77 L532.85,196.35 L533.19,195.92 L533.54,195.47 L533.89,195.02 L534.24,194.55 L534.59,194.07 L534.94,193.58 L535.29,193.08 L535.64,192.57 L535.99,192.05 L536.34,191.51 L536.69,190.97" fill="none" stroke="#ff7f0e" stroke-width="2.2" stroke-linejoin="round" stroke-dasharray="7.95 3.5" stroke-dashoffset="5.25" clip-path="url(#ce)"/>
<path d="M375.34,241.05 L375.70,240.97 L376.06,240.88 L376.42,240.80 L376.78,240.72 L377.14,240.63 L377.50,240.55 L377.86,240.47 L378.22,240.40 L378.59,240.32 L378.95,240.24 L379.31,240.17 L379.67,240.09 L380.03,240.02 L380.39,239.94 L380.75,239.87 L381.11,239.80 L381.47,239.73 L381.83,239.66 L382.19,239.59 L382.55,239.52 L382.91,239.45 L383.27,239.39 L383.63,239.32 L383.99,239.25 L384.36,239.19 L384.72,239.12 L385.08,239.06 L385.44,238.99 L385.80,238.93 L386.16,238.87 L386.52,238.81 L386.88,238.74 L387.24,238.68 L387.60,238.62 L387.96,238.56 L388.32,238.50 L388.68,238.44 L389.04,238.38 L389.40,238.32 L389.76,238.26 L390.12,238.20 L390.49,238.14 L390.85,238.08 L391.21,238.02 L391.57,237.96 L391.93,237.90 L392.29,237.84 L392.65,237.78 L393.01,237.73 L393.37,237.67 L393.73,237.61 L394.09,237.55 L394.45,237.49 L394.81,237.43 L395.17,237.37 L395.53,237.31 L395.89,237.26 L396.25,237.20 L396.62,237.14 L396.98,237.08 L397.34,237.02 L397.70,236.96 L398.06,236.90 L398.42,236.84 L398.78,236.78 L399.14,236.72 L399.50,236.66 L399.86,236.60 L400.22,236.54 L400.58,236.48 L400.94,236.42 L401.30,236.35 L401.66,236.29 L402.02,236.23 L402.39,236.17 L402.75,236.10 L403.11,236.04 L403.47,235.98 L403.83,235.91 L404.19,235.85 L404.55,235.78 L404.91,235.72 L405.27,235.65 L405.63,235.59 L405.99,235.52 L406.35,235.45 L406.71,235.39 L407.07,235.32 L407.43,235.25 L407.79,235.18 L408.15,235.11 L408.52,235.04 L408.88,234.97 L409.24,234.90 L409.60,234.83 L409.96,234.76 L410.32,234.69 L410.68,234.61 L411.04,234.54 L411.40,234.47 L411.76,234.39 L412.12,234.32 L412.48,234.24 L412.84,234.17 L413.20,234.09 L413.56,234.01 L413.92,233.94 L414.28,233.86 L414.65,233.78 L415.01,233.70 L415.37,233.62 L415.73,233.54 L416.09,233.46 L416.45,233.37 L416.81,233.29 L417.17,233.21 L417.53,233.12 L417.89,233.04 L418.25,232.95 L418.61,232.87 L418.97,232.78 L419.33,232.70 L419.69,232.61 L420.05,232.52 L420.42,232.43 L420.78,232.34 L421.14,232.25 L421.50,232.16 L421.86,232.07 L422.22,231.98 L422.58,231.88 L422.94,231.79 L423.30,231.70 L423.66,231.60 L424.02,231.50 L424.38,231.41 L424.74,231.31 L425.10,231.21 L425.46,231.12 L425.82,231.02 L426.18,230.92 L426.55,230.82 L426.91,230.72 L427.27,230.61 L427.63,230.51 L427.99,230.41 L428.35,230.31 L428.71,230.20 L429.07,230.10 L429.43,229.99 L429.79,229.89 L430.15,229.78 L430.51,229.67 L430.87,229.56 L431.23,229.45 L431.59,229.35 L431.95,229.24 L432.31,229.12 L432.68,229.01 L433.04,228.90 L433.40,228.79 L433.76,228.68 L434.12,228.56 L434.48,228.45 L434.84,228.33 L435.20,228.22 L435.56,228.10 L435.92,227.98 L436.28,227.87 L436.64,227.75 L437.00,227.63 L437.36,227.51 L437.72,227.39 L438.08,227.27 L438.45,227.15 L438.81,227.03 L439.17,226.90 L439.53,226.78 L439.89,226.66 L440.25,226.53 L440.61,226.41 L440.97,226.28 L441.33,226.16 L441.69,226.03 L442.05,225.91 L442.41,225.78 L442.77,225.65 L443.13,225.52 L443.49,225.39 L443.85,225.26 L444.21,225.13 L444.58,225.00 L444.94,224.87 L445.30,224.74 L445.66,224.61 L446.02,224.48 L446.38,224.35 L446.74,224.21 L447.10,224.08 L447.46,223.95 L447.82,223.81 L448.18,223.68 L448.54,223.54 L448.90,223.41 L449.26,223.27 L449.62,223.13 L449.98,223.00 L450.34,222.86 L450.71,222.72 L451.07,222.59 L451.43,222.45 L451.79,222.31 L452.15,222.17 L452.51,222.03 L452.87,221.89 L453.23,221.75 L453.59,221.61 L453.95,221.47 L454.31,221.33 L454.67,221.19 L455.03,221.05 L455.39,220.91 L455.75,220.77 L456.11,220.63 L456.48,220.48 L456.84,220.34 L457.20,220.20 L457.56,220.06 L457.92,219.91 L458.28,219.77 L458.64,219.63 L459.00,219.49 L459.36,219.34 L459.72,219.20 L460.08,219.06 L460.44,218.91 L460.80,218.77 L461.16,218.63 L461.52,218.48 L461.88,218.34 L462.24,218.19 L462.61,218.05 L462.97,217.91 L463.33,217.76 L463.69,217.62 L464.05,217.47 L464.41,217.33 L464.77,217.19 L465.13,217.04 L465.49,216.90 L465.85,216.76 L466.21,216.61 L466.57,216.47 L466.93,216.33 L467.29,216.18 L467.65,216.04 L468.01,215.90 L468.37,215.75 L468.74,215.61 L469.10,215.47 L469.46,215.33 L469.82,215.18 L470.18,215.04 L470.54,214.90 L470.90,214.76 L471.26,214.62 L471.62,214.48 L471.98,214.34 L472.34,214.20 L472.70,214.06 L473.06,213.92 L473.42,213.78 L473.78,213.64 L474.14,213.50 L474.51,213.36 L474.87,213.23 L475.23,213.09 L475.59,212.95 L475.95,212.81 L476.31,212.68 L476.67,212.54 L477.03,212.41 L477.39,212.27 L477.75,212.14 L478.11,212.01 L478.47,211.87 L478.83,211.74 L479.19,211.61 L479.55,211.48 L479.91,211.35 L480.27,211.22 L480.64,211.09 L481.00,210.96 L481.36,210.83 L481.72,210.70 L482.08,210.57 L482.44,210.45 L482.80,210.32 L483.16,210.20 L483.52,210.07 L483.88,209.95 L484.24,209.83 L484.60,209.71 L484.96,209.58 L485.32,209.46 L485.68,209.34 L486.04,209.22 L486.41,209.11 L486.77,208.99 L487.13,208.87 L487.49,208.76 L487.85,208.64 L488.21,208.53 L488.57,208.42 L488.93,208.30 L489.29,208.19 L489.65,208.08 L490.01,207.97 L490.37,207.87 L490.73,207.76 L491.09,207.65 L491.45,207.55 L491.81,207.44 L492.17,207.34 L492.54,207.24 L492.90,207.14 L493.26,207.04 L493.62,206.94 L493.98,206.84 L494.34,206.74 L494.70,206.65 L495.06,206.55 L495.42,206.46 L495.78,206.37 L496.14,206.27 L496.50,206.18 L496.86,206.09 L497.22,206.01 L497.58,205.92 L497.94,205.84 L498.30,205.75 L498.67,205.67 L499.03,205.59 L499.39,205.51 L499.75,205.43 L500.11,205.35 L500.47,205.27 L500.83,205.20 L501.19,205.12 L501.55,205.05 L501.91,204.98 L502.27,204.91 L502.63,204.84 L502.99,204.77 L503.35,204.70 L503.71,204.64 L504.07,204.58 L504.44,204.51 L504.80,204.45 L505.16,204.39 L505.52,204.34 L505.88,204.28 L506.24,204.22 L506.60,204.17 L506.96,204.12 L507.32,204.07 L507.68,204.02 L508.04,203.97 L508.40,203.92 L508.76,203.88 L509.12,203.83 L509.48,203.79 L509.84,203.75 L510.20,203.71 L510.57,203.67 L510.93,203.64 L511.29,203.60 L511.65,203.57 L512.01,203.54 L512.37,203.51 L512.73,203.48 L513.09,203.45 L513.45,203.42 L513.81,203.40 L514.17,203.38 L514.53,203.35 L514.89,203.33 L515.25,203.32 L515.61,203.30 L515.97,203.28 L516.33,203.27 L516.70,203.26 L517.06,203.25 L517.42,203.24 L517.78,203.23 L518.14,203.22 L518.50,203.22 L518.86,203.22 L519.22,203.21 L519.58,203.21 L519.94,203.22 L520.30,203.22 L520.66,203.22 L521.02,203.23 L521.38,203.24 L521.74,203.25 L522.10,203.26 L522.47,203.27 L522.83,203.28 L523.19,203.30 L523.55,203.32 L523.91,203.33 L524.27,203.35 L524.63,203.38 L524.99,203.40 L525.35,203.42 L525.71,203.45 L526.07,203.48 L526.43,203.51 L526.79,203.54 L527.15,203.57 L527.51,203.60 L527.87,203.64 L528.23,203.67 L528.60,203.71 L528.96,203.75 L529.32,203.79 L529.68,203.83 L530.04,203.88 L530.40,203.92 L530.76,203.97 L531.12,204.02 L531.48,204.07 L531.84,204.12 L532.20,204.17 L532.56,204.22 L532.92,204.28 L533.28,204.34 L533.64,204.39 L534.00,204.45 L534.36,204.51 L534.73,204.58 L535.09,204.64 L535.45,204.70 L535.81,204.77 L536.17,204.84 L536.53,204.91 L536.89,204.98 L537.25,205.05 L537.61,205.12 L537.97,205.20 L538.33,205.27 L538.69,205.35 L539.05,205.43 L539.41,205.51 L539.77,205.59 L540.13,205.67 L540.50,205.75 L540.86,205.84 L541.22,205.92 L541.58,206.01 L541.94,206.09 L542.30,206.18 L542.66,206.27 L543.02,206.37 L543.38,206.46 L543.74,206.55 L544.10,206.65 L544.46,206.74 L544.82,206.84 L545.18,206.94 L545.54,207.04 L545.90,207.14 L546.26,207.24 L546.63,207.34 L546.99,207.44 L547.35,207.55 L547.71,207.65 L548.07,207.76 L548.43,207.87 L548.79,207.97 L549.15,208.08 L549.51,208.19 L549.87,208.30 L550.23,208.42 L550.59,208.53 L550.95,208.64 L551.31,208.76 L551.67,208.87 L552.03,208.99 L552.39,209.11 L552.76,209.22 L553.12,209.34 L553.48,209.46 L553.84,209.58 L554.20,209.71 L554.56,209.83 L554.92,209.95 L555.28,210.07 L555.64,210.20 L556.00,210.32 L556.36,210.45 L556.72,210.57 L557.08,210.70 L557.44,210.83 L557.80,210.96 L558.16,211.09 L558.53,211.22 L558.89,211.35 L559.25,211.48 L559.61,211.61 L559.97,211.74 L560.33,211.87 L560.69,212.01 L561.05,212.14 L561.41,212.27 L561.77,212.41 L562.13,212.54 L562.49,212.68 L562.85,212.81 L563.21,212.95 L563.57,213.09 L563.93,213.23 L564.29,213.36 L564.66,213.50 L565.02,213.64 L565.38,213.78 L565.74,213.92 L566.10,214.06 L566.46,214.20 L566.82,214.34 L567.18,214.48 L567.54,214.62 L567.90,214.76 L568.26,214.90 L568.62,215.04 L568.98,215.18 L569.34,215.33 L569.70,215.47 L570.06,215.61 L570.43,215.75 L570.79,215.90 L571.15,216.04 L571.51,216.18 L571.87,216.33 L572.23,216.47 L572.59,216.61 L572.95,216.76 L573.31,216.90 L573.67,217.04 L574.03,217.19 L574.39,217.33 L574.75,217.47 L575.11,217.62 L575.47,217.76 L575.83,217.91 L576.19,218.05 L576.56,218.19 L576.92,218.34 L577.28,218.48 L577.64,218.63 L578.00,218.77 L578.36,218.91 L578.72,219.06 L579.08,219.20 L579.44,219.34 L579.80,219.49 L580.16,219.63 L580.52,219.77 L580.88,219.91 L581.24,220.06 L581.60,220.20 L581.96,220.34 L582.32,220.48 L582.69,220.63 L583.05,220.77 L583.41,220.91 L583.77,221.05 L584.13,221.19 L584.49,221.33 L584.85,221.47 L585.21,221.61 L585.57,221.75 L585.93,221.89 L586.29,222.03 L586.65,222.17 L587.01,222.31 L587.37,222.45 L587.73,222.59 L588.09,222.72 L588.46,222.86 L588.82,223.00 L589.18,223.13 L589.54,223.27 L589.90,223.41 L590.26,223.54 L590.62,223.68 L590.98,223.81 L591.34,223.95 L591.70,224.08 L592.06,224.21 L592.42,224.35 L592.78,224.48 L593.14,224.61 L593.50,224.74 L593.86,224.87 L594.22,225.00 L594.59,225.13 L594.95,225.26 L595.31,225.39 L595.67,225.52 L596.03,225.65 L596.39,225.78 L596.75,225.91 L597.11,226.03 L597.47,226.16 L597.83,226.28 L598.19,226.41 L598.55,226.53 L598.91,226.66 L599.27,226.78 L599.63,226.90 L599.99,227.03 L600.35,227.15 L600.72,227.27 L601.08,227.39 L601.44,227.51 L601.80,227.63 L602.16,227.75 L602.52,227.87 L602.88,227.98 L603.24,228.10 L603.60,228.22 L603.96,228.33 L604.32,228.45 L604.68,228.56 L605.04,228.68 L605.40,228.79 L605.76,228.90 L606.12,229.01 L606.49,229.12 L606.85,229.24 L607.21,229.35 L607.57,229.45 L607.93,229.56 L608.29,229.67 L608.65,229.78 L609.01,229.89 L609.37,229.99 L609.73,230.10 L610.09,230.20 L610.45,230.31 L610.81,230.41 L611.17,230.51 L611.53,230.61 L611.89,230.72 L612.25,230.82 L612.62,230.92 L612.98,231.02 L613.34,231.12 L613.70,231.21 L614.06,231.31 L614.42,231.41 L614.78,231.50 L615.14,231.60 L615.50,231.70 L615.86,231.79 L616.22,231.88 L616.58,231.98 L616.94,232.07 L617.30,232.16 L617.66,232.25 L618.02,232.34 L618.38,232.43 L618.75,232.52 L619.11,232.61 L619.47,232.70 L619.83,232.78 L620.19,232.87 L620.55,232.95 L620.91,233.04 L621.27,233.12 L621.63,233.21 L621.99,233.29 L622.35,233.37 L622.71,233.46 L623.07,233.54 L623.43,233.62 L623.79,233.70 L624.15,233.78 L624.52,233.86 L624.88,233.94 L625.24,234.01 L625.60,234.09 L625.96,234.17 L626.32,234.24 L626.68,234.32 L627.04,234.39 L627.40,234.47 L627.76,234.54 L628.12,234.61 L628.48,234.69 L628.84,234.76 L629.20,234.83 L629.56,234.90 L629.92,234.97 L630.28,235.04 L630.65,235.11 L631.01,235.18 L631.37,235.25 L631.73,235.32 L632.09,235.39 L632.45,235.45 L632.81,235.52 L633.17,235.59 L633.53,235.65 L633.89,235.72 L634.25,235.78 L634.61,235.85 L634.97,235.91 L635.33,235.98 L635.69,236.04 L636.05,236.10 L636.41,236.17 L636.78,236.23 L637.14,236.29 L637.50,236.35 L637.86,236.42 L638.22,236.48 L638.58,236.54 L638.94,236.60 L639.30,236.66 L639.66,236.72 L640.02,236.78 L640.38,236.84 L640.74,236.90 L641.10,236.96 L641.46,237.02 L641.82,237.08 L642.18,237.14 L642.55,237.20 L642.91,237.26 L643.27,237.31 L643.63,237.37 L643.99,237.43 L644.35,237.49 L644.71,237.55 L645.07,237.61 L645.43,237.67 L645.79,237.73 L646.15,237.78 L646.51,237.84 L646.87,237.90 L647.23,237.96 L647.59,238.02 L647.95,238.08 L648.31,238.14 L648.68,238.20 L649.04,238.26 L649.40,238.32 L649.76,238.38 L650.12,238.44 L650.48,238.50 L650.84,238.56 L651.20,238.62 L651.56,238.68 L651.92,238.74 L652.28,238.81 L652.64,238.87 L653.00,238.93 L653.36,238.99 L653.72,239.06 L654.08,239.12 L654.44,239.19 L654.81,239.25 L655.17,239.32 L655.53,239.39 L655.89,239.45 L656.25,239.52 L656.61,239.59 L656.97,239.66 L657.33,239.73 L657.69,239.80 L658.05,239.87 L658.41,239.94 L658.77,240.02 L659.13,240.09 L659.49,240.17 L659.85,240.24 L660.21,240.32 L660.58,240.40 L660.94,240.47 L661.30,240.55 L661.66,240.63 L662.02,240.72 L662.38,240.80 L662.74,240.88 L663.10,240.97 L663.46,241.05" fill="none" stroke="#b94ba6" stroke-width="2.2" stroke-linejoin="round" stroke-dasharray="7.95 3.5" stroke-dashoffset="6.64" clip-path="url(#ce)"/>
<path d="M375.34,327.85 L375.92,327.77 L376.49,327.70 L377.07,327.62 L377.65,327.55 L378.23,327.47 L378.80,327.40 L379.38,327.32 L379.96,327.25 L380.54,327.17 L381.11,327.10 L381.69,327.02 L382.27,326.94 L382.85,326.87 L383.42,326.79 L384.00,326.72 L384.58,326.64 L385.16,326.57 L385.73,326.49 L386.31,326.41 L386.89,326.34 L387.47,326.26 L388.04,326.18 L388.62,326.11 L389.20,326.03 L389.77,325.95 L390.35,325.87 L390.93,325.80 L391.51,325.72 L392.08,325.64 L392.66,325.56 L393.24,325.48 L393.82,325.40 L394.39,325.32 L394.97,325.25 L395.55,325.17 L396.13,325.09 L396.70,325.00 L397.28,324.92 L397.86,324.84 L398.44,324.76 L399.01,324.68 L399.59,324.60 L400.17,324.51 L400.75,324.43 L401.32,324.35 L401.90,324.26 L402.48,324.18 L403.05,324.09 L403.63,324.01 L404.21,323.92 L404.79,323.84 L405.36,323.75 L405.94,323.66 L406.52,323.57 L407.10,323.48 L407.67,323.39 L408.25,323.30 L408.83,323.21 L409.41,323.12 L409.98,323.03 L410.56,322.93 L411.14,322.84 L411.72,322.74 L412.29,322.65 L412.87,322.55 L413.45,322.45 L414.03,322.36 L414.60,322.26 L415.18,322.15 L415.76,322.05 L416.34,321.95 L416.91,321.84 L417.49,321.74 L418.07,321.63 L418.64,321.52 L419.22,321.42 L419.80,321.30 L420.38,321.19 L420.95,321.08 L421.53,320.96 L422.11,320.85 L422.69,320.73 L423.26,320.61 L423.84,320.49 L424.42,320.37 L425.00,320.24 L425.57,320.12 L426.15,319.99 L426.73,319.86 L427.31,319.73 L427.88,319.59 L428.46,319.46 L429.04,319.32 L429.62,319.18 L430.19,319.04 L430.77,318.89 L431.35,318.75 L431.92,318.60 L432.50,318.45 L433.08,318.29 L433.66,318.14 L434.23,317.98 L434.81,317.82 L435.39,317.65 L435.97,317.49 L436.54,317.32 L437.12,317.15 L437.70,316.97 L438.28,316.79 L438.85,316.61 L439.43,316.43 L440.01,316.24 L440.59,316.05 L441.16,315.85 L441.74,315.66 L442.32,315.45 L442.90,315.25 L443.47,315.04 L444.05,314.83 L444.63,314.61 L445.20,314.39 L445.78,314.17 L446.36,313.94 L446.94,313.71 L447.51,313.48 L448.09,313.24 L448.67,312.99 L449.25,312.74 L449.82,312.49 L450.40,312.23 L450.98,311.97 L451.56,311.71 L452.13,311.44 L452.71,311.16 L453.29,310.88 L453.87,310.59 L454.44,310.30 L455.02,310.01 L455.60,309.71 L456.18,309.40 L456.75,309.09 L457.33,308.77 L457.91,308.45 L458.48,308.12 L459.06,307.79 L459.64,307.45 L460.22,307.11 L460.79,306.76 L461.37,306.40 L461.95,306.04 L462.53,305.67 L463.10,305.30 L463.68,304.91 L464.26,304.53 L464.84,304.14 L465.41,303.74 L465.99,303.33 L466.57,302.92 L467.15,302.50 L467.72,302.08 L468.30,301.65 L468.88,301.21 L469.46,300.77 L470.03,300.32 L470.61,299.86 L471.19,299.40 L471.76,298.93 L472.34,298.45 L472.92,297.97 L473.50,297.48 L474.07,296.98 L474.65,296.48 L475.23,295.97 L475.81,295.45 L476.38,294.93 L476.96,294.40 L477.54,293.87 L478.12,293.33 L478.69,292.78 L479.27,292.23 L479.85,291.67 L480.43,291.10 L481.00,290.53 L481.58,289.95 L482.16,289.37 L482.74,288.78 L483.31,288.19 L483.89,287.59 L484.47,286.99 L485.05,286.38 L485.62,285.77 L486.20,285.15 L486.78,284.53 L487.35,283.91 L487.93,283.28 L488.51,282.65 L489.09,282.02 L489.66,281.38 L490.24,280.74 L490.82,280.10 L491.40,279.46 L491.97,278.82 L492.55,278.17 L493.13,277.53 L493.71,276.88 L494.28,276.24 L494.86,275.60 L495.44,274.96 L496.02,274.32 L496.59,273.68 L497.17,273.04 L497.75,272.41 L498.33,271.79 L498.90,271.16 L499.48,270.55 L500.06,269.93 L500.63,269.33 L501.21,268.73 L501.79,268.14 L502.37,267.55 L502.94,266.98 L503.52,266.41 L504.10,265.86 L504.68,265.31 L505.25,264.78 L505.83,264.25 L506.41,263.74 L506.99,263.24 L507.56,262.76 L508.14,262.29 L508.72,261.83 L509.30,261.39 L509.87,260.97 L510.45,260.56 L511.03,260.17 L511.61,259.80 L512.18,259.44 L512.76,259.11 L513.34,258.79 L513.91,258.49 L514.49,258.21 L515.07,257.95 L515.65,257.71 L516.22,257.50 L516.80,257.30 L517.38,257.13 L517.96,256.97 L518.53,256.84 L519.11,256.73 L519.69,256.73 L520.27,256.84 L520.84,256.97 L521.42,257.13 L522.00,257.30 L522.58,257.50 L523.15,257.71 L523.73,257.95 L524.31,258.21 L524.89,258.49 L525.46,258.79 L526.04,259.11 L526.62,259.44 L527.19,259.80 L527.77,260.17 L528.35,260.56 L528.93,260.97 L529.50,261.39 L530.08,261.83 L530.66,262.29 L531.24,262.76 L531.81,263.24 L532.39,263.74 L532.97,264.25 L533.55,264.78 L534.12,265.31 L534.70,265.86 L535.28,266.41 L535.86,266.98 L536.43,267.55 L537.01,268.14 L537.59,268.73 L538.17,269.33 L538.74,269.93 L539.32,270.55 L539.90,271.16 L540.47,271.79 L541.05,272.41 L541.63,273.04 L542.21,273.68 L542.78,274.32 L543.36,274.96 L543.94,275.60 L544.52,276.24 L545.09,276.88 L545.67,277.53 L546.25,278.17 L546.83,278.82 L547.40,279.46 L547.98,280.10 L548.56,280.74 L549.14,281.38 L549.71,282.02 L550.29,282.65 L550.87,283.28 L551.45,283.91 L552.02,284.53 L552.60,285.15 L553.18,285.77 L553.75,286.38 L554.33,286.99 L554.91,287.59 L555.49,288.19 L556.06,288.78 L556.64,289.37 L557.22,289.95 L557.80,290.53 L558.37,291.10 L558.95,291.67 L559.53,292.23 L560.11,292.78 L560.68,293.33 L561.26,293.87 L561.84,294.40 L562.42,294.93 L562.99,295.45 L563.57,295.97 L564.15,296.48 L564.73,296.98 L565.30,297.48 L565.88,297.97 L566.46,298.45 L567.04,298.93 L567.61,299.40 L568.19,299.86 L568.77,300.32 L569.34,300.77 L569.92,301.21 L570.50,301.65 L571.08,302.08 L571.65,302.50 L572.23,302.92 L572.81,303.33 L573.39,303.74 L573.96,304.14 L574.54,304.53 L575.12,304.91 L575.70,305.30 L576.27,305.67 L576.85,306.04 L577.43,306.40 L578.01,306.76 L578.58,307.11 L579.16,307.45 L579.74,307.79 L580.32,308.12 L580.89,308.45 L581.47,308.77 L582.05,309.09 L582.62,309.40 L583.20,309.71 L583.78,310.01 L584.36,310.30 L584.93,310.59 L585.51,310.88 L586.09,311.16 L586.67,311.44 L587.24,311.71 L587.82,311.97 L588.40,312.23 L588.98,312.49 L589.55,312.74 L590.13,312.99 L590.71,313.24 L591.29,313.48 L591.86,313.71 L592.44,313.94 L593.02,314.17 L593.60,314.39 L594.17,314.61 L594.75,314.83 L595.33,315.04 L595.90,315.25 L596.48,315.45 L597.06,315.66 L597.64,315.85 L598.21,316.05 L598.79,316.24 L599.37,316.43 L599.95,316.61 L600.52,316.79 L601.10,316.97 L601.68,317.15 L602.26,317.32 L602.83,317.49 L603.41,317.65 L603.99,317.82 L604.57,317.98 L605.14,318.14 L605.72,318.29 L606.30,318.45 L606.88,318.60 L607.45,318.75 L608.03,318.89 L608.61,319.04 L609.18,319.18 L609.76,319.32 L610.34,319.46 L610.92,319.59 L611.49,319.73 L612.07,319.86 L612.65,319.99 L613.23,320.12 L613.80,320.24 L614.38,320.37 L614.96,320.49 L615.54,320.61 L616.11,320.73 L616.69,320.85 L617.27,320.96 L617.85,321.08 L618.42,321.19 L619.00,321.30 L619.58,321.42 L620.16,321.52 L620.73,321.63 L621.31,321.74 L621.89,321.84 L622.46,321.95 L623.04,322.05 L623.62,322.15 L624.20,322.26 L624.77,322.36 L625.35,322.45 L625.93,322.55 L626.51,322.65 L627.08,322.74 L627.66,322.84 L628.24,322.93 L628.82,323.03 L629.39,323.12 L629.97,323.21 L630.55,323.30 L631.13,323.39 L631.70,323.48 L632.28,323.57 L632.86,323.66 L633.44,323.75 L634.01,323.84 L634.59,323.92 L635.17,324.01 L635.75,324.09 L636.32,324.18 L636.90,324.26 L637.48,324.35 L638.05,324.43 L638.63,324.51 L639.21,324.60 L639.79,324.68 L640.36,324.76 L640.94,324.84 L641.52,324.92 L642.10,325.00 L642.67,325.09 L643.25,325.17 L643.83,325.25 L644.41,325.32 L644.98,325.40 L645.56,325.48 L646.14,325.56 L646.72,325.64 L647.29,325.72 L647.87,325.80 L648.45,325.87 L649.03,325.95 L649.60,326.03 L650.18,326.11 L650.76,326.18 L651.33,326.26 L651.91,326.34 L652.49,326.41 L653.07,326.49 L653.64,326.57 L654.22,326.64 L654.80,326.72 L655.38,326.79 L655.95,326.87 L656.53,326.94 L657.11,327.02 L657.69,327.10 L658.26,327.17 L658.84,327.25 L659.42,327.32 L660.00,327.40 L660.57,327.47 L661.15,327.55 L661.73,327.62 L662.31,327.70 L662.88,327.77 L663.46,327.85" fill="none" stroke="#000" stroke-width="2.2" stroke-linejoin="round" clip-path="url(#ce)"/>
<g fill="#1f77b4"><circle cx="461.78" cy="312.04" r="2.9"/><circle cx="473.01" cy="300.58" r="2.9"/><circle cx="484.47" cy="290.06" r="2.9"/><circle cx="495.70" cy="272.04" r="2.9"/><circle cx="507.08" cy="263.25" r="2.9"/><circle cx="530.20" cy="261.67" r="2.9"/><circle cx="540.79" cy="264.48" r="2.9"/><circle cx="552.25" cy="276.94" r="2.9"/><circle cx="567.30" cy="298.13" r="2.9"/><circle cx="578.54" cy="311.25" r="2.9"/></g>
<g fill="#1f77b4"><circle cx="519.10" cy="264.40" r="2.9"/><circle cx="519.40" cy="265.60" r="2.9"/><circle cx="519.00" cy="266.80" r="2.9"/><circle cx="519.30" cy="268.00" r="2.9"/><circle cx="519.10" cy="269.20" r="2.9"/><circle cx="519.20" cy="270.20" r="2.9"/><circle cx="519.10" cy="275.20" r="2.9"/><circle cx="519.30" cy="276.60" r="2.9"/><circle cx="519.00" cy="278.00" r="2.9"/><circle cx="519.20" cy="279.40" r="2.9"/><circle cx="519.10" cy="284.80" r="2.9"/><circle cx="519.10" cy="287.30" r="2.9"/></g>
<rect x="375.40" y="192.50" width="288.10" height="143.50" fill="none" stroke="#000" stroke-width="1.2"/>
<line x1="375.34" y1="336.00" x2="375.34" y2="340.80" stroke="#000" stroke-width="1.2"/>
<text x="375.34" y="353.30" text-anchor="middle" font-size="10.5">−0.002</text>
<line x1="519.40" y1="336.00" x2="519.40" y2="340.80" stroke="#000" stroke-width="1.2"/>
<text x="519.40" y="353.30" text-anchor="middle" font-size="10.5">0.000</text>
<line x1="663.46" y1="336.00" x2="663.46" y2="340.80" stroke="#000" stroke-width="1.2"/>
<text x="663.46" y="353.30" text-anchor="middle" font-size="10.5">0.002</text>
<line x1="370.60" y1="314.56" x2="375.40" y2="314.56" stroke="#000" stroke-width="1.2"/>
<text x="365.60" y="319.06" text-anchor="end" font-size="10.5">10</text>
<line x1="370.60" y1="278.53" x2="375.40" y2="278.53" stroke="#000" stroke-width="1.2"/>
<text x="365.60" y="283.03" text-anchor="end" font-size="10.5">15</text>
<line x1="370.60" y1="242.50" x2="375.40" y2="242.50" stroke="#000" stroke-width="1.2"/>
<text x="365.60" y="247.00" text-anchor="end" font-size="10.5">20</text>
<line x1="370.60" y1="206.46" x2="375.40" y2="206.46" stroke="#000" stroke-width="1.2"/>
<text x="365.60" y="210.96" text-anchor="end" font-size="10.5">25</text>
<text transform="translate(7.80,78.30) rotate(-90)" text-anchor="middle" font-size="10.5" letter-spacing="-0.13">Im <tspan font-style="italic">S</tspan><tspan font-size="7.9" dy="2.4">21</tspan><tspan dy="-2.4"> (arb. units)</tspan></text>
<text transform="translate(229.50,78.30) rotate(-90)" text-anchor="middle" font-size="10.5" letter-spacing="-0.13">Im <tspan font-style="italic">S</tspan><tspan font-size="7.9" dy="2.4">21</tspan><tspan dy="-2.4"> (arb. units)</tspan></text>
<text transform="translate(452.70,78.30) rotate(-90)" text-anchor="middle" font-size="10.5" letter-spacing="-0.13">Im <tspan font-style="italic">S</tspan><tspan font-size="7.9" dy="2.4">21</tspan><tspan dy="-2.4"> (arb. units)</tspan></text>
<text transform="translate(8.40,263.00) rotate(-90)" text-anchor="middle" font-size="10.5"><tspan font-style="italic">T</tspan><tspan font-size="7.9" dy="2.4">1</tspan><tspan dy="-2.4"> (</tspan><tspan font-style="italic">μ</tspan>s)</text>
<text transform="translate(347.60,264.00) rotate(-90)" text-anchor="middle" font-size="10.5"><tspan font-style="italic">T</tspan><tspan font-size="7.9" dy="2.4">2<tspan font-style="italic">R</tspan></tspan><tspan dy="-2.4"> (ns)</tspan></text>
<text x="128.30" y="169.50" text-anchor="middle" font-size="10.5"><tspan font-family="Liberation Mono" font-style="italic">τ</tspan> (<tspan font-style="italic">μ</tspan>s)</text>
<text x="350.20" y="169.50" text-anchor="middle" font-size="10.5"><tspan font-family="Liberation Mono" font-style="italic">τ</tspan> (ns)</text>
<text x="573.90" y="169.50" text-anchor="middle" font-size="10.5"><tspan font-family="Liberation Mono" font-style="italic">τ</tspan> (ns)</text>
<text x="178.50" y="366.00" text-anchor="middle" font-size="10.5">Φ<tspan font-size="7.6" dy="1.5">ext</tspan><tspan dy="-1.5">/Φ</tspan><tspan font-size="7.6" dy="1.5">0</tspan></text>
<text x="519.40" y="366.00" text-anchor="middle" font-size="10.5">Φ<tspan font-size="7.6" dy="1.5">ext</tspan><tspan dy="-1.5">/Φ</tspan><tspan font-size="7.6" dy="1.5">0</tspan></text>
<text x="207.7" y="31.9" text-anchor="end" font-size="10.5"><tspan font-style="italic">T</tspan><tspan font-size="7.9" dy="2.4">1</tspan><tspan dy="-2.4"> = 49 </tspan><tspan font-style="italic">μs</tspan></text>
<text x="429" y="31.9" text-anchor="end" font-size="10.5"><tspan font-style="italic">T</tspan><tspan font-size="7.3" dy="2.2">2<tspan font-style="italic">R</tspan></tspan><tspan dy="-2.2"> = 17 ns</tspan></text>
<text x="653" y="31.9" text-anchor="end" font-size="10.5"><tspan font-style="italic">T</tspan><tspan font-size="7.3" dy="2.2">2<tspan font-style="italic">E</tspan></tspan><tspan dy="-2.2"> = 25 ns</tspan></text>
<text x="0.3" y="23.6" font-size="9.5" font-weight="bold">a</text>
<text x="222" y="23.6" font-size="9.5" font-weight="bold">b</text>
<text x="445.2" y="23.6" font-size="9.5" font-weight="bold">c</text>
<text x="0.3" y="196" font-size="9.5" font-weight="bold">d</text>
<text x="341" y="196" font-size="9.5" font-weight="bold">e</text>
</g></svg></body></html>
